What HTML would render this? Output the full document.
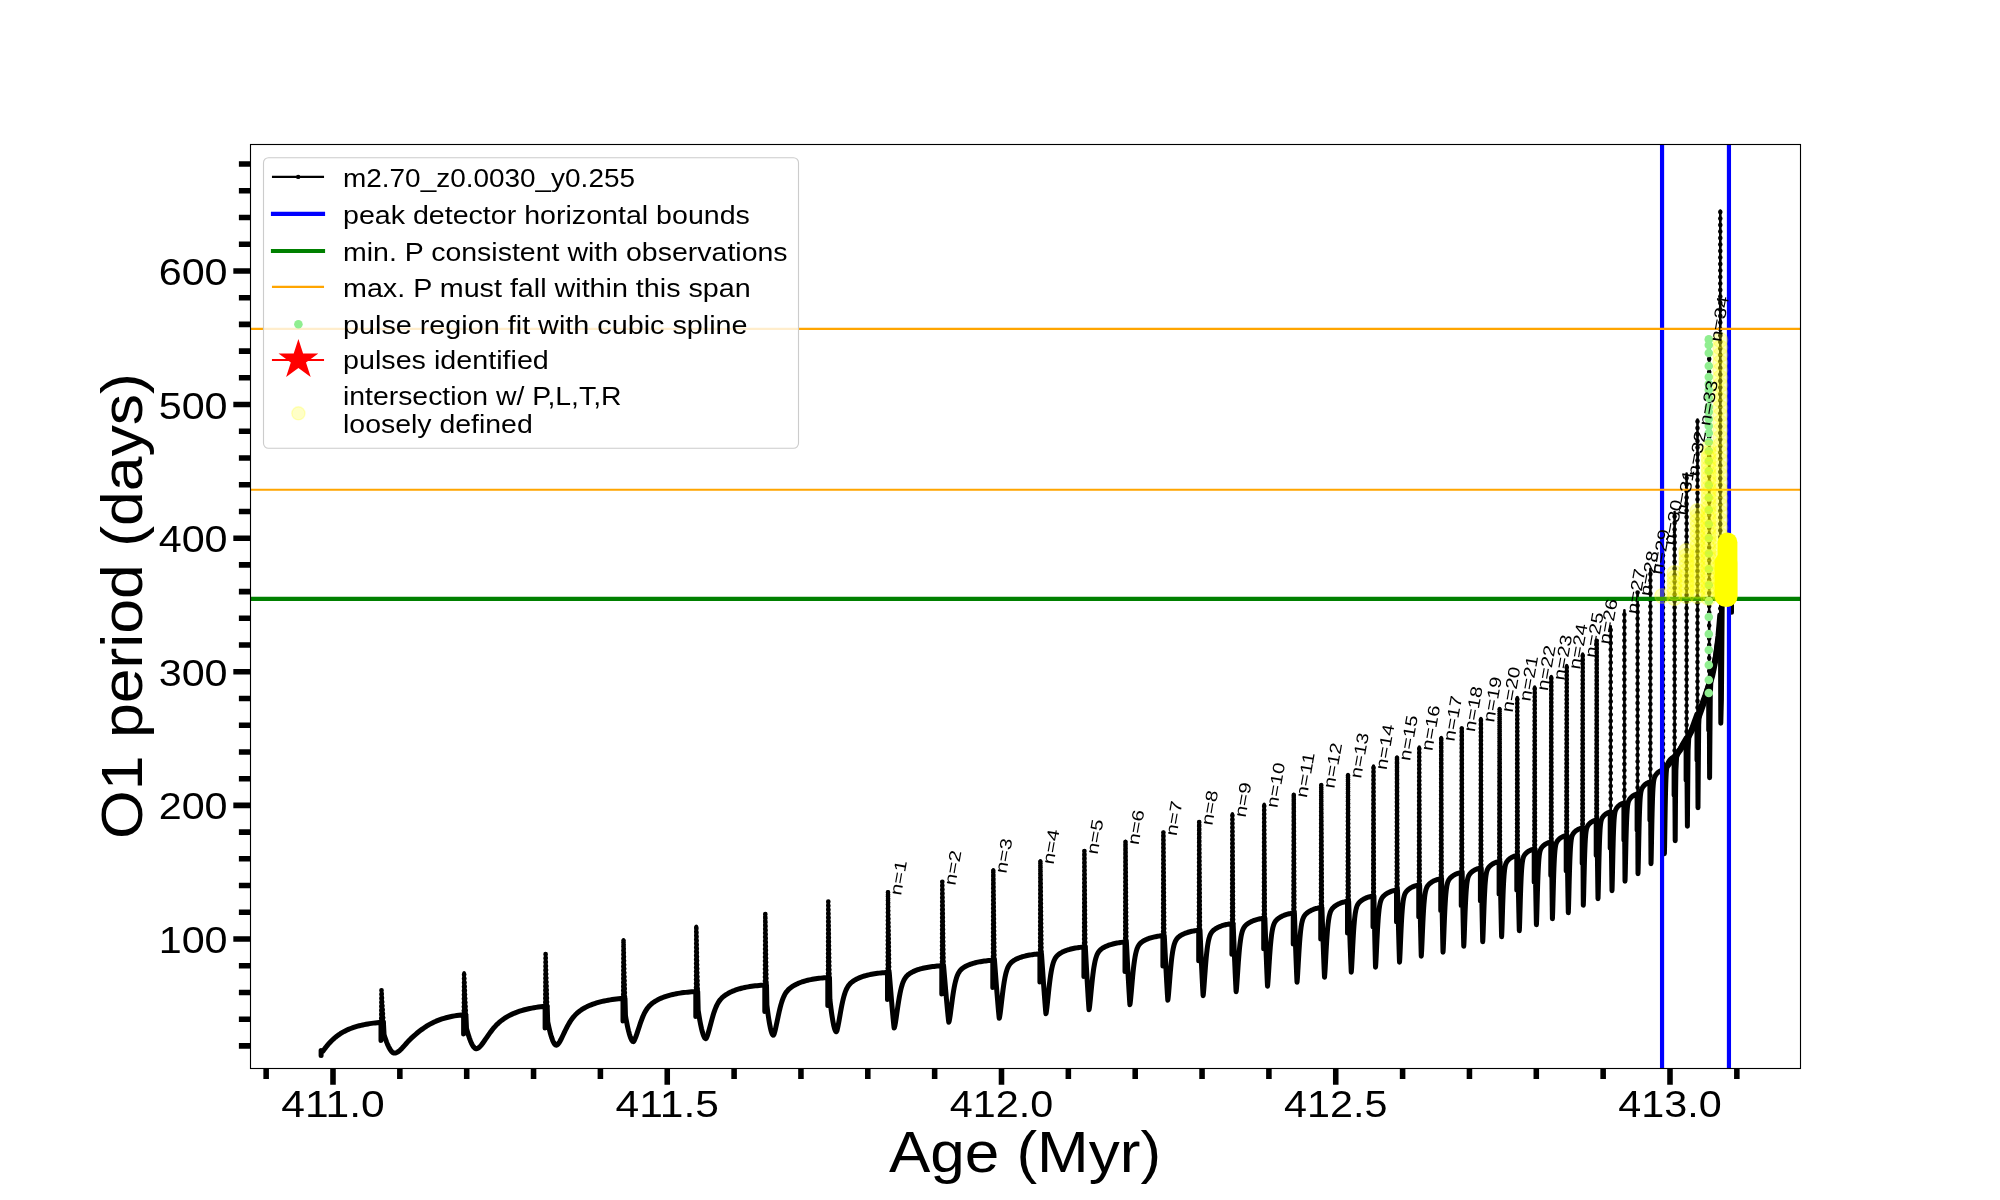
<!DOCTYPE html><html><head><meta charset="utf-8"><title>chart</title><style>html,body{margin:0;padding:0;background:#fff;width:2000px;height:1200px;overflow:hidden}svg{display:block;will-change:transform}</style></head><body><svg width="2000" height="1200" viewBox="0 0 2000 1200" font-family='"Liberation Sans", sans-serif'>
<rect x="0" y="0" width="2000" height="1200" fill="#fff"/>
<defs><clipPath id="ax"><rect x="250" y="144" width="1550" height="924"/></clipPath></defs>
<g clip-path="url(#ax)">
<path d="M321.10,1055.40 L321.10,1050.60 L322.20,1051.60 L322.32,1051.58 L322.56,1051.44 L322.90,1051.11 L323.30,1050.61 L323.78,1049.99 L324.31,1049.27 L324.90,1048.47 L325.54,1047.63 L326.24,1046.74 L326.98,1045.82 L327.77,1044.87 L328.60,1043.91 L329.47,1042.94 L330.39,1041.96 L331.34,1040.99 L332.34,1040.02 L333.37,1039.07 L334.44,1038.12 L335.55,1037.20 L336.69,1036.30 L337.87,1035.42 L339.08,1034.57 L340.32,1033.74 L341.60,1032.94 L342.91,1032.17 L344.25,1031.43 L345.62,1030.73 L347.02,1030.05 L348.46,1029.40 L349.92,1028.79 L351.41,1028.21 L352.93,1027.65 L354.49,1027.13 L356.07,1026.64 L357.67,1026.18 L359.31,1025.74 L360.97,1025.33 L362.66,1024.95 L364.38,1024.59 L366.12,1024.25 L367.89,1023.94 L369.69,1023.65 L371.51,1023.38 L373.36,1023.13 L375.23,1022.90 L377.13,1022.68 L379.05,1022.48 L381.00,1022.30 L381.00,1022.30 L381.00,1040.50 L381.20,1022.30 M383.42,1022.30 L384.06,1034.62 L384.70,1036.65 L385.34,1038.57 L385.98,1040.38 L386.62,1042.09 L387.26,1043.69 L387.90,1045.17 L388.54,1046.54 L389.18,1047.79 L389.82,1048.93 L390.46,1049.94 L391.10,1050.82 L391.74,1051.58 L392.38,1052.19 L393.02,1052.66 L393.66,1052.97 L394.30,1053.10 L394.44,1053.10 L394.73,1053.08 L395.12,1053.03 L395.60,1052.94 L396.16,1052.77 L396.79,1052.51 L397.48,1052.15 L398.24,1051.66 L399.06,1051.05 L399.93,1050.29 L400.86,1049.41 L401.84,1048.40 L402.87,1047.29 L403.95,1046.08 L405.08,1044.81 L406.25,1043.49 L407.47,1042.15 L408.73,1040.81 L410.03,1039.47 L411.38,1038.14 L412.76,1036.84 L414.19,1035.55 L415.66,1034.28 L417.16,1033.02 L418.70,1031.78 L420.28,1030.56 L421.90,1029.37 L423.56,1028.19 L425.24,1027.05 L426.97,1025.95 L428.73,1024.89 L430.52,1023.88 L432.35,1022.92 L434.21,1022.01 L436.11,1021.16 L438.04,1020.37 L440.00,1019.63 L441.99,1018.94 L444.01,1018.31 L446.07,1017.73 L448.15,1017.21 L450.27,1016.73 L452.42,1016.29 L454.59,1015.90 L456.80,1015.55 L459.04,1015.23 L461.30,1014.95 L463.60,1014.70 L463.60,1014.70 L463.60,1034.00 L463.80,1014.70 M465.90,1014.70 L466.50,1028.30 L467.10,1030.54 L467.70,1032.66 L468.30,1034.66 L468.90,1036.55 L469.50,1038.31 L470.10,1039.95 L470.70,1041.46 L471.30,1042.84 L471.90,1044.09 L472.50,1045.21 L473.10,1046.19 L473.70,1047.02 L474.30,1047.70 L474.90,1048.22 L475.50,1048.56 L476.10,1048.70 L476.24,1048.70 L476.53,1048.67 L476.92,1048.60 L477.39,1048.45 L477.95,1048.19 L478.58,1047.80 L479.27,1047.26 L480.02,1046.54 L480.84,1045.66 L481.71,1044.60 L482.63,1043.38 L483.61,1042.02 L484.63,1040.54 L485.71,1038.95 L486.83,1037.29 L488.00,1035.58 L489.21,1033.85 L490.46,1032.12 L491.76,1030.41 L493.10,1028.74 L494.48,1027.13 L495.90,1025.58 L497.36,1024.11 L498.86,1022.71 L500.40,1021.40 L501.97,1020.16 L503.58,1018.99 L505.23,1017.89 L506.91,1016.86 L508.63,1015.89 L510.38,1014.98 L512.17,1014.13 L513.99,1013.32 L515.84,1012.57 L517.73,1011.86 L519.65,1011.20 L521.60,1010.59 L523.58,1010.02 L525.60,1009.48 L527.64,1008.99 L529.72,1008.53 L531.83,1008.11 L533.96,1007.72 L536.13,1007.36 L538.33,1007.03 L540.56,1006.73 L542.81,1006.45 L545.10,1006.20 L545.10,1006.20 L545.10,1028.00 L545.30,1006.20 M547.19,1006.20 L547.72,1021.80 L548.25,1024.37 L548.78,1026.80 L549.31,1029.10 L549.84,1031.26 L550.37,1033.28 L550.90,1035.16 L551.43,1036.89 L551.96,1038.48 L552.49,1039.92 L553.02,1041.20 L553.55,1042.32 L554.08,1043.27 L554.61,1044.05 L555.14,1044.65 L555.67,1045.04 L556.20,1045.20 L556.34,1045.19 L556.61,1045.14 L556.99,1044.99 L557.45,1044.69 L557.99,1044.19 L558.60,1043.45 L559.27,1042.47 L560.00,1041.24 L560.79,1039.77 L561.63,1038.10 L562.52,1036.26 L563.47,1034.27 L564.46,1032.18 L565.50,1030.03 L566.59,1027.85 L567.72,1025.70 L568.89,1023.61 L570.11,1021.61 L571.36,1019.71 L572.66,1017.95 L574.00,1016.32 L575.37,1014.82 L576.79,1013.44 L578.24,1012.17 L579.72,1011.01 L581.25,1009.93 L582.81,1008.93 L584.40,1007.99 L586.03,1007.12 L587.69,1006.30 L589.39,1005.54 L591.12,1004.82 L592.88,1004.15 L594.67,1003.52 L596.50,1002.94 L598.36,1002.40 L600.25,1001.89 L602.17,1001.43 L604.12,1000.99 L606.10,1000.60 L608.11,1000.23 L610.15,999.89 L612.22,999.59 L614.32,999.30 L616.45,999.05 L618.60,998.81 L620.79,998.60 L623.00,998.40 L623.00,998.40 L623.00,1021.00 L623.20,998.40 M624.99,998.40 L625.48,1015.72 L625.98,1018.57 L626.47,1021.27 L626.97,1023.82 L627.46,1026.22 L627.96,1028.46 L628.45,1030.55 L628.95,1032.48 L629.44,1034.24 L629.93,1035.83 L630.43,1037.25 L630.92,1038.50 L631.42,1039.56 L631.91,1040.42 L632.41,1041.08 L632.90,1041.52 L633.40,1041.70 L633.53,1041.66 L633.79,1041.38 L634.14,1040.77 L634.57,1039.85 L635.07,1038.67 L635.64,1037.22 L636.27,1035.52 L636.95,1033.57 L637.69,1031.39 L638.47,1029.00 L639.31,1026.46 L640.19,1023.83 L641.12,1021.17 L642.09,1018.55 L643.10,1016.05 L644.16,1013.72 L645.26,1011.60 L646.39,1009.70 L647.56,1008.02 L648.78,1006.54 L650.02,1005.23 L651.31,1004.06 L652.63,1003.01 L653.98,1002.05 L655.37,1001.16 L656.80,1000.33 L658.25,999.55 L659.74,998.82 L661.26,998.14 L662.82,997.50 L664.40,996.90 L666.02,996.34 L667.66,995.82 L669.34,995.33 L671.05,994.88 L672.78,994.47 L674.55,994.09 L676.34,993.73 L678.16,993.41 L680.01,993.11 L681.89,992.84 L683.80,992.59 L685.73,992.36 L687.69,992.15 L689.68,991.97 L691.69,991.79 L693.73,991.64 L695.80,991.50 L695.80,991.50 L695.80,1016.50 L696.00,991.50 M697.72,991.50 L698.20,1010.38 L698.67,1013.49 L699.15,1016.43 L699.62,1019.21 L700.10,1021.83 L700.57,1024.27 L701.05,1026.55 L701.52,1028.65 L702.00,1030.57 L702.47,1032.30 L702.95,1033.85 L703.42,1035.21 L703.90,1036.36 L704.38,1037.31 L704.85,1038.03 L705.32,1038.51 L705.80,1038.70 L705.92,1038.67 L706.17,1038.44 L706.50,1037.86 L706.91,1036.92 L707.38,1035.63 L707.92,1033.99 L708.51,1032.02 L709.16,1029.72 L709.85,1027.15 L710.60,1024.34 L711.39,1021.38 L712.22,1018.33 L713.10,1015.30 L714.02,1012.37 L714.98,1009.61 L715.97,1007.09 L717.01,1004.83 L718.08,1002.84 L719.19,1001.11 L720.34,999.61 L721.52,998.31 L722.73,997.16 L723.98,996.13 L725.26,995.20 L726.58,994.33 L727.92,993.53 L729.30,992.79 L730.71,992.08 L732.15,991.42 L733.61,990.81 L735.11,990.23 L736.64,989.69 L738.20,989.19 L739.78,988.72 L741.39,988.29 L743.03,987.88 L744.70,987.51 L746.40,987.17 L748.12,986.86 L749.87,986.57 L751.65,986.30 L753.45,986.06 L755.28,985.84 L757.13,985.64 L759.01,985.45 L760.92,985.29 L762.85,985.14 L764.80,985.00 L764.80,985.00 L764.80,1011.50 L765.00,985.00 M766.50,985.00 L766.90,1005.08 L767.30,1008.38 L767.70,1011.52 L768.10,1014.47 L768.50,1017.25 L768.90,1019.86 L769.30,1022.27 L769.70,1024.51 L770.10,1026.55 L770.50,1028.40 L770.90,1030.05 L771.30,1031.49 L771.70,1032.72 L772.10,1033.72 L772.50,1034.49 L772.90,1035.00 L773.30,1035.20 L773.41,1035.17 L773.64,1034.93 L773.95,1034.33 L774.32,1033.29 L774.76,1031.80 L775.26,1029.87 L775.80,1027.52 L776.40,1024.79 L777.04,1021.74 L777.73,1018.44 L778.46,1014.99 L779.23,1011.51 L780.04,1008.11 L780.89,1004.87 L781.78,1001.89 L782.70,999.20 L783.65,996.84 L784.65,994.79 L785.67,993.04 L786.73,991.54 L787.82,990.26 L788.94,989.13 L790.09,988.14 L791.28,987.24 L792.49,986.41 L793.73,985.65 L795.01,984.94 L796.31,984.27 L797.64,983.64 L798.99,983.05 L800.38,982.50 L801.79,981.99 L803.22,981.51 L804.69,981.07 L806.18,980.65 L807.69,980.27 L809.24,979.91 L810.80,979.59 L812.39,979.29 L814.01,979.01 L815.65,978.75 L817.32,978.52 L819.00,978.31 L820.72,978.12 L822.45,977.94 L824.21,977.78 L825.99,977.63 L827.80,977.50 L827.80,977.50 L827.80,1005.50 L828.00,977.50 M829.50,977.50 L829.90,999.18 L830.30,1002.75 L830.70,1006.13 L831.10,1009.32 L831.50,1012.32 L831.90,1015.13 L832.30,1017.74 L832.70,1020.16 L833.10,1022.36 L833.50,1024.36 L833.90,1026.14 L834.30,1027.69 L834.70,1029.02 L835.10,1030.10 L835.50,1030.93 L835.90,1031.48 L836.30,1031.70 L836.40,1031.65 L836.62,1031.38 L836.91,1030.69 L837.26,1029.51 L837.67,1027.79 L838.14,1025.55 L838.65,1022.84 L839.21,1019.70 L839.82,1016.25 L840.46,1012.57 L841.15,1008.81 L841.87,1005.07 L842.63,1001.48 L843.43,998.14 L844.26,995.11 L845.13,992.43 L846.03,990.12 L846.96,988.14 L847.92,986.47 L848.92,985.06 L849.94,983.86 L850.99,982.83 L852.08,981.92 L853.19,981.11 L854.33,980.37 L855.50,979.68 L856.69,979.05 L857.91,978.45 L859.16,977.89 L860.44,977.37 L861.74,976.88 L863.06,976.42 L864.41,976.00 L865.79,975.60 L867.19,975.23 L868.61,974.89 L870.06,974.57 L871.53,974.28 L873.03,974.01 L874.55,973.76 L876.09,973.53 L877.65,973.32 L879.24,973.13 L880.85,972.95 L882.48,972.80 L884.13,972.65 L885.80,972.52 L887.50,972.40 L887.50,972.40 L887.50,999.50 L887.70,972.40 M889.22,972.40 L891.36,998.53 L891.53,1000.55 L891.70,1002.56 L891.87,1004.55 L892.04,1006.53 L892.21,1008.49 L892.38,1010.43 L892.56,1012.35 L892.73,1014.25 L892.90,1016.13 L893.07,1017.98 L893.24,1019.80 L893.41,1021.59 L893.59,1023.33 L893.76,1025.01 L893.93,1026.60 L894.10,1028.00 L894.20,1027.93 L894.40,1027.54 L894.66,1026.65 L895.00,1025.17 L895.38,1023.06 L895.81,1020.36 L896.29,1017.13 L896.81,1013.47 L897.38,1009.51 L897.98,1005.39 L898.62,1001.25 L899.29,997.23 L900.00,993.45 L900.74,990.00 L901.52,986.92 L902.32,984.25 L903.16,981.97 L904.03,980.05 L904.93,978.46 L905.85,977.12 L906.81,976.00 L907.79,975.05 L908.80,974.22 L909.84,973.48 L910.90,972.82 L911.99,972.21 L913.10,971.64 L914.24,971.11 L915.40,970.62 L916.59,970.16 L917.80,969.73 L919.03,969.32 L920.29,968.95 L921.57,968.59 L922.88,968.27 L924.20,967.96 L925.55,967.68 L926.92,967.42 L928.32,967.18 L929.73,966.96 L931.17,966.76 L932.62,966.57 L934.10,966.40 L935.60,966.25 L937.12,966.10 L938.66,965.97 L940.22,965.86 L941.80,965.75 L941.80,965.75 L941.80,994.00 L942.00,965.75 M943.59,965.75 L945.85,992.28 L946.03,994.33 L946.21,996.37 L946.39,998.39 L946.57,1000.40 L946.75,1002.39 L946.94,1004.36 L947.12,1006.31 L947.30,1008.24 L947.48,1010.15 L947.66,1012.03 L947.84,1013.88 L948.02,1015.69 L948.21,1017.45 L948.39,1019.16 L948.57,1020.78 L948.75,1022.20 L948.84,1022.12 L949.02,1021.69 L949.27,1020.75 L949.58,1019.20 L949.93,1017.02 L950.33,1014.27 L950.77,1011.01 L951.26,1007.34 L951.78,1003.38 L952.33,999.27 L952.92,995.16 L953.54,991.17 L954.20,987.43 L954.88,984.00 L955.60,980.96 L956.35,978.32 L957.12,976.06 L957.92,974.17 L958.75,972.59 L959.60,971.28 L960.49,970.19 L961.39,969.25 L962.32,968.45 L963.28,967.74 L964.26,967.10 L965.27,966.52 L966.29,965.98 L967.35,965.47 L968.42,965.00 L969.52,964.56 L970.63,964.14 L971.78,963.76 L972.94,963.39 L974.12,963.05 L975.32,962.73 L976.55,962.44 L977.80,962.16 L979.06,961.91 L980.35,961.68 L981.65,961.46 L982.98,961.26 L984.33,961.07 L985.69,960.90 L987.08,960.75 L988.48,960.61 L989.90,960.48 L991.34,960.36 L992.80,960.25 L992.80,960.25 L992.80,987.60 L993.00,960.25 M994.48,960.25 L996.54,987.49 L996.71,989.59 L996.88,991.68 L997.04,993.76 L997.21,995.82 L997.37,997.86 L997.54,999.89 L997.71,1001.89 L997.87,1003.87 L998.04,1005.83 L998.20,1007.76 L998.37,1009.66 L998.54,1011.52 L998.70,1013.33 L998.87,1015.08 L999.03,1016.75 L999.20,1018.20 L999.28,1018.10 L999.45,1017.62 L999.68,1016.56 L999.96,1014.86 L1000.29,1012.53 L1000.66,1009.61 L1001.07,1006.17 L1001.52,1002.32 L1002.00,998.19 L1002.51,993.91 L1003.05,989.65 L1003.63,985.51 L1004.23,981.64 L1004.87,978.10 L1005.53,974.95 L1006.22,972.22 L1006.93,969.89 L1007.67,967.94 L1008.44,966.31 L1009.23,964.96 L1010.04,963.84 L1010.88,962.89 L1011.74,962.07 L1012.63,961.36 L1013.53,960.71 L1014.46,960.13 L1015.41,959.59 L1016.38,959.09 L1017.37,958.62 L1018.39,958.18 L1019.42,957.77 L1020.47,957.38 L1021.55,957.01 L1022.64,956.67 L1023.75,956.35 L1024.89,956.05 L1026.04,955.77 L1027.21,955.51 L1028.40,955.27 L1029.60,955.05 L1030.83,954.85 L1032.07,954.66 L1033.33,954.48 L1034.61,954.32 L1035.91,954.17 L1037.22,954.04 L1038.55,953.91 L1039.90,953.80 L1039.90,953.80 L1039.90,982.00 L1040.10,953.80 M1041.50,953.80 L1043.43,981.95 L1043.58,984.13 L1043.73,986.29 L1043.89,988.44 L1044.04,990.56 L1044.20,992.68 L1044.35,994.77 L1044.51,996.84 L1044.66,998.89 L1044.82,1000.91 L1044.97,1002.91 L1045.13,1004.87 L1045.28,1006.79 L1045.44,1008.66 L1045.59,1010.48 L1045.75,1012.20 L1045.90,1013.70 L1045.98,1013.58 L1046.14,1013.02 L1046.35,1011.83 L1046.61,1009.99 L1046.92,1007.51 L1047.26,1004.42 L1047.65,1000.82 L1048.06,996.80 L1048.51,992.51 L1048.99,988.08 L1049.50,983.66 L1050.04,979.40 L1050.60,975.40 L1051.19,971.76 L1051.81,968.52 L1052.45,965.70 L1053.12,963.30 L1053.81,961.29 L1054.53,959.62 L1055.26,958.23 L1056.02,957.08 L1056.81,956.12 L1057.61,955.29 L1058.44,954.57 L1059.28,953.93 L1060.15,953.35 L1061.03,952.82 L1061.94,952.32 L1062.87,951.85 L1063.81,951.42 L1064.78,951.01 L1065.76,950.62 L1066.77,950.25 L1067.79,949.91 L1068.82,949.59 L1069.88,949.29 L1070.96,949.01 L1072.05,948.75 L1073.16,948.51 L1074.29,948.28 L1075.43,948.08 L1076.59,947.88 L1077.77,947.70 L1078.96,947.54 L1080.17,947.39 L1081.40,947.25 L1082.64,947.12 L1083.90,947.00 L1083.90,947.00 L1083.90,976.60 L1084.10,947.00 M1085.32,947.00 L1086.93,976.47 L1087.06,978.75 L1087.19,981.01 L1087.32,983.25 L1087.45,985.48 L1087.58,987.69 L1087.71,989.88 L1087.84,992.05 L1087.97,994.20 L1088.09,996.31 L1088.22,998.40 L1088.35,1000.46 L1088.48,1002.47 L1088.61,1004.43 L1088.74,1006.33 L1088.87,1008.13 L1089.00,1009.70 L1089.07,1009.56 L1089.22,1008.90 L1089.43,1007.60 L1089.68,1005.65 L1089.97,1003.07 L1090.29,999.89 L1090.65,996.19 L1091.05,992.09 L1091.47,987.72 L1091.93,983.22 L1092.41,978.75 L1092.92,974.43 L1093.45,970.39 L1094.01,966.71 L1094.60,963.44 L1095.21,960.60 L1095.84,958.17 L1096.49,956.14 L1097.17,954.46 L1097.87,953.06 L1098.59,951.91 L1099.33,950.94 L1100.09,950.12 L1100.88,949.41 L1101.68,948.79 L1102.50,948.22 L1103.34,947.70 L1104.20,947.22 L1105.08,946.77 L1105.97,946.35 L1106.89,945.95 L1107.82,945.57 L1108.77,945.22 L1109.73,944.88 L1110.72,944.57 L1111.72,944.28 L1112.74,944.00 L1113.77,943.75 L1114.82,943.51 L1115.89,943.28 L1116.98,943.08 L1118.07,942.88 L1119.19,942.71 L1120.32,942.54 L1121.47,942.39 L1122.63,942.25 L1123.81,942.12 L1125.00,942.00 L1125.00,942.00 L1125.00,971.50 L1125.20,942.00 M1126.38,942.00 L1127.92,971.47 L1128.04,973.75 L1128.17,976.01 L1128.29,978.25 L1128.41,980.48 L1128.54,982.69 L1128.66,984.88 L1128.79,987.05 L1128.91,989.20 L1129.03,991.31 L1129.16,993.40 L1129.28,995.46 L1129.41,997.47 L1129.53,999.43 L1129.65,1001.33 L1129.78,1003.13 L1129.90,1004.70 L1129.97,1004.45 L1130.10,1003.68 L1130.29,1002.29 L1130.52,1000.25 L1130.78,997.56 L1131.08,994.27 L1131.42,990.46 L1131.78,986.25 L1132.17,981.78 L1132.58,977.19 L1133.02,972.63 L1133.49,968.24 L1133.98,964.14 L1134.50,960.40 L1135.03,957.08 L1135.59,954.19 L1136.17,951.73 L1136.77,949.67 L1137.39,947.96 L1138.03,946.54 L1138.69,945.38 L1139.37,944.41 L1140.07,943.59 L1140.79,942.88 L1141.52,942.26 L1142.27,941.71 L1143.04,941.20 L1143.83,940.73 L1144.64,940.29 L1145.46,939.88 L1146.29,939.49 L1147.15,939.13 L1148.02,938.78 L1148.91,938.46 L1149.81,938.15 L1150.73,937.86 L1151.66,937.59 L1152.61,937.34 L1153.57,937.11 L1154.55,936.88 L1155.54,936.68 L1156.55,936.49 L1157.57,936.31 L1158.61,936.14 L1159.66,935.99 L1160.73,935.85 L1161.81,935.72 L1162.90,935.60 L1162.90,935.60 L1162.90,966.00 L1163.10,935.60 M1164.28,935.60 L1165.82,965.96 L1165.94,968.31 L1166.07,970.64 L1166.19,972.95 L1166.32,975.25 L1166.44,977.53 L1166.56,979.78 L1166.69,982.02 L1166.81,984.23 L1166.93,986.41 L1167.06,988.56 L1167.18,990.68 L1167.30,992.75 L1167.43,994.77 L1167.55,996.72 L1167.68,998.58 L1167.80,1000.20 L1167.86,999.95 L1167.99,999.17 L1168.17,997.77 L1168.38,995.70 L1168.63,992.98 L1168.91,989.64 L1169.22,985.78 L1169.56,981.50 L1169.92,976.96 L1170.31,972.30 L1170.73,967.68 L1171.16,963.23 L1171.62,959.06 L1172.10,955.27 L1172.61,951.90 L1173.13,948.98 L1173.67,946.48 L1174.23,944.40 L1174.81,942.67 L1175.41,941.24 L1176.03,940.07 L1176.67,939.09 L1177.32,938.27 L1177.99,937.56 L1178.68,936.94 L1179.39,936.38 L1180.11,935.87 L1180.84,935.40 L1181.60,934.96 L1182.37,934.55 L1183.15,934.16 L1183.95,933.79 L1184.77,933.44 L1185.60,933.11 L1186.44,932.80 L1187.30,932.51 L1188.17,932.24 L1189.06,931.98 L1189.97,931.74 L1190.88,931.52 L1191.81,931.31 L1192.76,931.11 L1193.71,930.93 L1194.68,930.76 L1195.67,930.60 L1196.67,930.46 L1197.68,930.32 L1198.70,930.20 L1198.70,930.20 L1198.70,960.70 L1198.90,930.20 M1199.98,930.20 L1201.35,960.99 L1201.45,963.36 L1201.56,965.73 L1201.67,968.07 L1201.78,970.40 L1201.89,972.71 L1202.00,975.00 L1202.11,977.26 L1202.22,979.50 L1202.33,981.72 L1202.44,983.90 L1202.55,986.04 L1202.66,988.14 L1202.77,990.19 L1202.88,992.18 L1202.99,994.06 L1203.10,995.70 L1203.16,995.45 L1203.28,994.65 L1203.44,993.20 L1203.64,991.08 L1203.87,988.27 L1204.13,984.83 L1204.42,980.84 L1204.74,976.43 L1205.08,971.74 L1205.44,966.93 L1205.83,962.16 L1206.23,957.57 L1206.66,953.27 L1207.11,949.36 L1207.58,945.89 L1208.07,942.87 L1208.57,940.31 L1209.10,938.16 L1209.64,936.39 L1210.20,934.92 L1210.77,933.72 L1211.37,932.72 L1211.98,931.88 L1212.60,931.16 L1213.24,930.52 L1213.90,929.96 L1214.57,929.44 L1215.26,928.96 L1215.96,928.51 L1216.68,928.09 L1217.41,927.69 L1218.15,927.31 L1218.91,926.95 L1219.69,926.62 L1220.47,926.30 L1221.28,926.00 L1222.09,925.72 L1222.92,925.45 L1223.76,925.20 L1224.61,924.97 L1225.48,924.75 L1226.36,924.55 L1227.25,924.36 L1228.16,924.18 L1229.07,924.02 L1230.00,923.87 L1230.95,923.73 L1231.90,923.60 L1231.90,923.60 L1231.90,954.20 L1232.10,923.60 M1233.14,923.60 L1234.43,955.61 L1234.54,958.08 L1234.64,960.54 L1234.75,962.98 L1234.85,965.40 L1234.96,967.80 L1235.06,970.18 L1235.16,972.53 L1235.27,974.86 L1235.37,977.16 L1235.48,979.43 L1235.58,981.66 L1235.68,983.84 L1235.79,985.98 L1235.89,988.04 L1236.00,989.99 L1236.10,991.70 L1236.16,991.45 L1236.27,990.63 L1236.43,989.17 L1236.62,987.00 L1236.84,984.13 L1237.09,980.62 L1237.37,976.55 L1237.67,972.04 L1238.00,967.25 L1238.34,962.34 L1238.71,957.46 L1239.10,952.77 L1239.51,948.39 L1239.94,944.39 L1240.39,940.85 L1240.86,937.78 L1241.34,935.16 L1241.85,932.98 L1242.37,931.17 L1242.90,929.69 L1243.45,928.47 L1244.02,927.46 L1244.61,926.61 L1245.20,925.88 L1245.82,925.24 L1246.45,924.66 L1247.09,924.14 L1247.75,923.66 L1248.42,923.20 L1249.11,922.78 L1249.81,922.37 L1250.53,921.99 L1251.25,921.63 L1252.00,921.29 L1252.75,920.96 L1253.52,920.66 L1254.30,920.37 L1255.09,920.10 L1255.90,919.85 L1256.72,919.61 L1257.55,919.39 L1258.39,919.18 L1259.25,918.98 L1260.11,918.80 L1260.99,918.64 L1261.88,918.48 L1262.79,918.33 L1263.70,918.20 L1263.70,918.20 L1263.70,948.70 L1263.90,918.20 M1264.86,918.20 L1266.02,950.16 L1266.11,952.63 L1266.20,955.08 L1266.29,957.52 L1266.39,959.94 L1266.48,962.33 L1266.57,964.71 L1266.66,967.06 L1266.76,969.39 L1266.85,971.68 L1266.94,973.95 L1267.04,976.17 L1267.13,978.36 L1267.22,980.48 L1267.31,982.54 L1267.41,984.49 L1267.50,986.20 L1267.55,985.95 L1267.66,985.14 L1267.80,983.68 L1267.98,981.53 L1268.19,978.67 L1268.42,975.17 L1268.68,971.10 L1268.96,966.61 L1269.27,961.83 L1269.59,956.92 L1269.94,952.06 L1270.30,947.37 L1270.68,943.00 L1271.09,939.01 L1271.50,935.48 L1271.94,932.42 L1272.39,929.82 L1272.86,927.65 L1273.35,925.85 L1273.85,924.38 L1274.36,923.17 L1274.89,922.17 L1275.44,921.33 L1275.99,920.61 L1276.57,919.98 L1277.15,919.42 L1277.76,918.90 L1278.37,918.42 L1279.00,917.98 L1279.64,917.56 L1280.29,917.16 L1280.96,916.78 L1281.64,916.42 L1282.33,916.08 L1283.03,915.76 L1283.75,915.46 L1284.48,915.17 L1285.22,914.91 L1285.97,914.65 L1286.73,914.41 L1287.51,914.19 L1288.30,913.98 L1289.09,913.79 L1289.90,913.61 L1290.72,913.44 L1291.55,913.28 L1292.40,913.14 L1293.25,913.00 L1293.25,913.00 L1293.25,944.00 L1293.45,913.00 M1294.40,913.00 L1295.54,945.52 L1295.63,948.04 L1295.72,950.53 L1295.81,953.01 L1295.90,955.47 L1295.99,957.91 L1296.09,960.33 L1296.18,962.72 L1296.27,965.09 L1296.36,967.43 L1296.45,969.73 L1296.54,972.00 L1296.63,974.22 L1296.73,976.38 L1296.82,978.48 L1296.91,980.46 L1297.00,982.20 L1297.05,981.95 L1297.15,981.13 L1297.28,979.64 L1297.45,977.44 L1297.64,974.52 L1297.85,970.94 L1298.09,966.79 L1298.35,962.19 L1298.63,957.30 L1298.93,952.28 L1299.25,947.30 L1299.58,942.51 L1299.94,938.04 L1300.31,933.97 L1300.69,930.36 L1301.10,927.24 L1301.51,924.58 L1301.94,922.37 L1302.39,920.54 L1302.85,919.05 L1303.33,917.82 L1303.82,916.81 L1304.32,915.96 L1304.83,915.23 L1305.36,914.59 L1305.91,914.02 L1306.46,913.50 L1307.03,913.02 L1307.61,912.57 L1308.20,912.15 L1308.80,911.74 L1309.41,911.36 L1310.04,911.00 L1310.68,910.65 L1311.33,910.33 L1311.99,910.02 L1312.66,909.73 L1313.34,909.45 L1314.04,909.20 L1314.74,908.95 L1315.46,908.73 L1316.18,908.51 L1316.92,908.31 L1317.66,908.13 L1318.42,907.95 L1319.19,907.79 L1319.96,907.64 L1320.75,907.50 L1320.75,907.50 L1320.75,939.00 L1320.95,907.50 M1321.90,907.50 L1323.04,940.26 L1323.13,942.79 L1323.22,945.31 L1323.31,947.80 L1323.40,950.28 L1323.49,952.74 L1323.59,955.17 L1323.68,957.58 L1323.77,959.97 L1323.86,962.32 L1323.95,964.64 L1324.04,966.92 L1324.13,969.16 L1324.23,971.34 L1324.32,973.45 L1324.41,975.45 L1324.50,977.20 L1324.55,976.94 L1324.64,976.10 L1324.77,974.58 L1324.93,972.31 L1325.12,969.31 L1325.33,965.63 L1325.56,961.35 L1325.81,956.63 L1326.08,951.61 L1326.37,946.46 L1326.68,941.37 L1327.00,936.47 L1327.34,931.91 L1327.70,927.77 L1328.08,924.11 L1328.47,920.94 L1328.87,918.27 L1329.29,916.04 L1329.72,914.21 L1330.17,912.72 L1330.63,911.49 L1331.10,910.49 L1331.59,909.64 L1332.09,908.92 L1332.60,908.29 L1333.12,907.73 L1333.66,907.21 L1334.21,906.74 L1334.77,906.29 L1335.34,905.87 L1335.93,905.47 L1336.52,905.09 L1337.13,904.73 L1337.75,904.38 L1338.38,904.06 L1339.02,903.75 L1339.67,903.46 L1340.33,903.19 L1341.00,902.94 L1341.68,902.69 L1342.37,902.47 L1343.08,902.26 L1343.79,902.06 L1344.51,901.87 L1345.24,901.70 L1345.99,901.54 L1346.74,901.39 L1347.50,901.25 L1347.50,901.25 L1347.50,933.00 L1347.70,901.25 M1348.65,901.25 L1349.79,934.60 L1349.88,937.17 L1349.97,939.73 L1350.06,942.28 L1350.15,944.80 L1350.24,947.30 L1350.34,949.78 L1350.43,952.23 L1350.52,954.66 L1350.61,957.05 L1350.70,959.42 L1350.79,961.74 L1350.88,964.02 L1350.98,966.24 L1351.07,968.38 L1351.16,970.42 L1351.25,972.20 L1351.29,971.94 L1351.38,971.09 L1351.51,969.55 L1351.66,967.25 L1351.83,964.20 L1352.03,960.46 L1352.25,956.12 L1352.49,951.33 L1352.74,946.24 L1353.02,941.04 L1353.31,935.89 L1353.62,930.95 L1353.94,926.36 L1354.28,922.20 L1354.63,918.54 L1355.00,915.38 L1355.38,912.72 L1355.78,910.51 L1356.19,908.70 L1356.61,907.23 L1357.04,906.03 L1357.49,905.04 L1357.95,904.22 L1358.42,903.52 L1358.91,902.90 L1359.41,902.35 L1359.91,901.85 L1360.43,901.38 L1360.96,900.94 L1361.50,900.53 L1362.06,900.13 L1362.62,899.76 L1363.19,899.41 L1363.78,899.07 L1364.37,898.75 L1364.98,898.45 L1365.59,898.17 L1366.22,897.90 L1366.85,897.65 L1367.50,897.42 L1368.15,897.19 L1368.82,896.99 L1369.49,896.79 L1370.17,896.61 L1370.87,896.44 L1371.57,896.28 L1372.28,896.14 L1373.00,896.00 L1373.00,896.00 L1373.00,926.75 L1373.20,896.00 M1373.90,896.00 L1374.60,929.46 L1374.66,932.05 L1374.71,934.62 L1374.77,937.17 L1374.82,939.70 L1374.88,942.21 L1374.94,944.70 L1374.99,947.16 L1375.05,949.60 L1375.11,952.00 L1375.16,954.37 L1375.22,956.70 L1375.28,958.99 L1375.33,961.22 L1375.39,963.37 L1375.44,965.41 L1375.50,967.20 L1375.54,966.94 L1375.63,966.07 L1375.75,964.49 L1375.89,962.13 L1376.06,959.01 L1376.25,955.17 L1376.46,950.73 L1376.69,945.82 L1376.94,940.61 L1377.21,935.29 L1377.49,930.04 L1377.79,925.01 L1378.10,920.35 L1378.42,916.14 L1378.77,912.43 L1379.12,909.25 L1379.49,906.58 L1379.87,904.37 L1380.27,902.57 L1380.67,901.10 L1381.09,899.91 L1381.53,898.94 L1381.97,898.12 L1382.43,897.43 L1382.89,896.82 L1383.37,896.28 L1383.86,895.78 L1384.37,895.32 L1384.88,894.89 L1385.40,894.48 L1385.93,894.09 L1386.48,893.72 L1387.03,893.37 L1387.59,893.04 L1388.17,892.73 L1388.75,892.43 L1389.35,892.15 L1389.95,891.88 L1390.56,891.64 L1391.19,891.40 L1391.82,891.18 L1392.46,890.98 L1393.11,890.78 L1393.77,890.60 L1394.44,890.44 L1395.12,890.28 L1395.80,890.13 L1396.50,890.00 L1396.50,890.00 L1396.50,921.75 L1396.70,890.00 M1397.50,890.00 L1398.38,923.93 L1398.45,926.56 L1398.52,929.16 L1398.59,931.75 L1398.66,934.31 L1398.73,936.86 L1398.80,939.38 L1398.87,941.88 L1398.94,944.35 L1399.01,946.79 L1399.08,949.19 L1399.15,951.55 L1399.22,953.87 L1399.29,956.13 L1399.36,958.31 L1399.43,960.39 L1399.50,962.20 L1399.54,961.94 L1399.62,961.07 L1399.73,959.46 L1399.86,957.08 L1400.02,953.92 L1400.19,950.04 L1400.38,945.54 L1400.59,940.58 L1400.82,935.32 L1401.06,929.95 L1401.32,924.66 L1401.59,919.61 L1401.88,914.94 L1402.18,910.72 L1402.49,907.03 L1402.82,903.87 L1403.16,901.22 L1403.51,899.04 L1403.87,897.26 L1404.24,895.83 L1404.63,894.66 L1405.02,893.71 L1405.43,892.92 L1405.85,892.24 L1406.28,891.65 L1406.72,891.12 L1407.17,890.64 L1407.63,890.19 L1408.10,889.77 L1408.57,889.37 L1409.06,888.99 L1409.56,888.63 L1410.07,888.29 L1410.59,887.97 L1411.11,887.66 L1411.65,887.37 L1412.19,887.10 L1412.75,886.84 L1413.31,886.60 L1413.88,886.37 L1414.46,886.15 L1415.05,885.95 L1415.64,885.76 L1416.25,885.59 L1416.86,885.43 L1417.48,885.27 L1418.11,885.13 L1418.75,885.00 L1418.75,885.00 L1418.75,916.75 L1418.95,885.00 M1419.65,885.00 L1420.35,918.46 L1420.41,921.05 L1420.46,923.62 L1420.52,926.17 L1420.57,928.70 L1420.63,931.21 L1420.69,933.70 L1420.74,936.16 L1420.80,938.60 L1420.86,941.00 L1420.91,943.37 L1420.97,945.70 L1421.03,947.99 L1421.08,950.22 L1421.14,952.37 L1421.19,954.41 L1421.25,956.20 L1421.29,955.94 L1421.37,955.05 L1421.48,953.43 L1421.62,951.01 L1421.77,947.80 L1421.95,943.86 L1422.15,939.29 L1422.36,934.26 L1422.59,928.93 L1422.84,923.50 L1423.10,918.16 L1423.37,913.07 L1423.66,908.36 L1423.97,904.14 L1424.28,900.44 L1424.61,897.29 L1424.95,894.66 L1425.31,892.50 L1425.68,890.75 L1426.06,889.34 L1426.45,888.20 L1426.85,887.27 L1427.26,886.49 L1427.68,885.83 L1428.12,885.26 L1428.56,884.74 L1429.02,884.27 L1429.48,883.83 L1429.96,883.42 L1430.44,883.03 L1430.94,882.66 L1431.44,882.30 L1431.96,881.97 L1432.48,881.65 L1433.01,881.35 L1433.56,881.07 L1434.11,880.80 L1434.67,880.55 L1435.24,880.31 L1435.82,880.09 L1436.40,879.88 L1437.00,879.68 L1437.60,879.50 L1438.22,879.33 L1438.84,879.17 L1439.47,879.02 L1440.10,878.88 L1440.75,878.75 L1440.75,878.75 L1440.75,910.50 L1440.95,878.75 M1441.60,878.75 L1442.21,913.27 L1442.26,915.94 L1442.31,918.59 L1442.36,921.22 L1442.41,923.83 L1442.46,926.42 L1442.51,928.99 L1442.56,931.53 L1442.61,934.04 L1442.66,936.52 L1442.70,938.97 L1442.75,941.37 L1442.80,943.73 L1442.85,946.03 L1442.90,948.25 L1442.95,950.36 L1443.00,952.20 L1443.04,951.93 L1443.11,951.01 L1443.22,949.33 L1443.34,946.81 L1443.49,943.46 L1443.66,939.35 L1443.84,934.60 L1444.04,929.36 L1444.25,923.82 L1444.48,918.19 L1444.73,912.65 L1444.99,907.39 L1445.26,902.54 L1445.54,898.19 L1445.84,894.40 L1446.15,891.18 L1446.47,888.50 L1446.80,886.30 L1447.14,884.53 L1447.50,883.11 L1447.86,881.96 L1448.24,881.03 L1448.62,880.26 L1449.02,879.60 L1449.43,879.02 L1449.84,878.51 L1450.27,878.03 L1450.70,877.59 L1451.15,877.18 L1451.60,876.79 L1452.07,876.42 L1452.54,876.06 L1453.02,875.73 L1453.51,875.41 L1454.01,875.11 L1454.52,874.83 L1455.03,874.56 L1455.56,874.31 L1456.09,874.07 L1456.63,873.84 L1457.18,873.63 L1457.74,873.44 L1458.30,873.25 L1458.88,873.08 L1459.46,872.92 L1460.05,872.77 L1460.65,872.63 L1461.25,872.50 L1461.25,872.50 L1461.25,905.50 L1461.45,872.50 M1462.15,872.50 L1462.85,907.14 L1462.91,909.82 L1462.96,912.47 L1463.02,915.12 L1463.07,917.74 L1463.13,920.33 L1463.19,922.91 L1463.24,925.46 L1463.30,927.98 L1463.36,930.47 L1463.41,932.92 L1463.47,935.33 L1463.53,937.70 L1463.58,940.00 L1463.64,942.23 L1463.69,944.35 L1463.75,946.20 L1463.78,945.93 L1463.85,945.03 L1463.95,943.35 L1464.06,940.85 L1464.20,937.53 L1464.35,933.45 L1464.51,928.73 L1464.70,923.53 L1464.89,918.04 L1465.10,912.47 L1465.33,907.00 L1465.56,901.81 L1465.81,897.04 L1466.07,892.78 L1466.34,889.07 L1466.62,885.93 L1466.91,883.33 L1467.22,881.21 L1467.53,879.50 L1467.85,878.13 L1468.19,877.04 L1468.53,876.15 L1468.88,875.41 L1469.24,874.78 L1469.61,874.23 L1469.99,873.74 L1470.38,873.29 L1470.78,872.87 L1471.18,872.47 L1471.60,872.10 L1472.02,871.74 L1472.45,871.41 L1472.89,871.09 L1473.34,870.78 L1473.79,870.50 L1474.26,870.22 L1474.73,869.97 L1475.21,869.73 L1475.69,869.50 L1476.19,869.28 L1476.69,869.08 L1477.20,868.89 L1477.71,868.72 L1478.24,868.55 L1478.77,868.40 L1479.30,868.26 L1479.85,868.12 L1480.40,868.00 L1480.40,868.00 L1480.40,900.70 L1480.60,868.00 M1481.26,868.00 L1481.89,902.64 L1481.94,905.32 L1481.99,907.97 L1482.04,910.62 L1482.09,913.24 L1482.14,915.83 L1482.19,918.41 L1482.24,920.96 L1482.30,923.48 L1482.35,925.97 L1482.40,928.42 L1482.45,930.83 L1482.50,933.20 L1482.55,935.50 L1482.60,937.73 L1482.65,939.85 L1482.70,941.70 L1482.73,941.43 L1482.80,940.49 L1482.89,938.75 L1483.01,936.16 L1483.14,932.70 L1483.29,928.47 L1483.45,923.57 L1483.63,918.18 L1483.83,912.49 L1484.03,906.73 L1484.25,901.08 L1484.48,895.74 L1484.73,890.84 L1484.98,886.47 L1485.25,882.68 L1485.53,879.49 L1485.82,876.84 L1486.11,874.70 L1486.42,872.98 L1486.74,871.61 L1487.07,870.51 L1487.41,869.62 L1487.75,868.89 L1488.11,868.26 L1488.48,867.72 L1488.85,867.23 L1489.23,866.78 L1489.62,866.36 L1490.02,865.97 L1490.43,865.59 L1490.85,865.24 L1491.27,864.90 L1491.70,864.58 L1492.15,864.28 L1492.59,863.99 L1493.05,863.72 L1493.51,863.46 L1493.99,863.22 L1494.46,863.00 L1494.95,862.78 L1495.44,862.58 L1495.95,862.39 L1496.45,862.22 L1496.97,862.05 L1497.49,861.90 L1498.02,861.76 L1498.56,861.62 L1499.10,861.50 L1499.10,861.50 L1499.10,894.00 L1499.30,861.50 M1500.00,861.50 L1500.70,896.84 L1500.76,899.58 L1500.81,902.29 L1500.87,904.98 L1500.92,907.66 L1500.98,910.31 L1501.04,912.93 L1501.09,915.53 L1501.15,918.11 L1501.21,920.65 L1501.26,923.15 L1501.32,925.61 L1501.38,928.03 L1501.43,930.38 L1501.49,932.65 L1501.54,934.81 L1501.60,936.70 L1501.63,936.42 L1501.69,935.47 L1501.78,933.69 L1501.89,931.02 L1502.01,927.49 L1502.15,923.14 L1502.30,918.12 L1502.46,912.60 L1502.64,906.79 L1502.84,900.90 L1503.04,895.15 L1503.25,889.72 L1503.48,884.74 L1503.72,880.33 L1503.96,876.51 L1504.22,873.30 L1504.49,870.65 L1504.76,868.51 L1505.05,866.80 L1505.35,865.45 L1505.65,864.37 L1505.96,863.49 L1506.28,862.77 L1506.61,862.16 L1506.95,861.62 L1507.30,861.14 L1507.65,860.70 L1508.02,860.29 L1508.39,859.90 L1508.77,859.53 L1509.15,859.18 L1509.55,858.85 L1509.95,858.54 L1510.35,858.24 L1510.77,857.96 L1511.19,857.69 L1511.62,857.44 L1512.06,857.20 L1512.50,856.97 L1512.95,856.76 L1513.41,856.56 L1513.88,856.38 L1514.35,856.21 L1514.82,856.04 L1515.31,855.89 L1515.80,855.75 L1516.30,855.62 L1516.80,855.50 L1516.80,855.50 L1516.80,890.00 L1517.00,855.50 M1517.70,855.50 L1518.40,890.84 L1518.46,893.58 L1518.51,896.29 L1518.57,898.98 L1518.62,901.66 L1518.68,904.31 L1518.74,906.93 L1518.79,909.53 L1518.85,912.11 L1518.91,914.65 L1518.96,917.15 L1519.02,919.61 L1519.07,922.03 L1519.13,924.38 L1519.19,926.65 L1519.24,928.81 L1519.30,930.70 L1519.33,930.42 L1519.39,929.45 L1519.48,927.64 L1519.58,924.93 L1519.70,921.32 L1519.83,916.89 L1519.98,911.78 L1520.15,906.16 L1520.32,900.26 L1520.51,894.29 L1520.71,888.46 L1520.92,882.97 L1521.14,877.96 L1521.37,873.52 L1521.62,869.70 L1521.87,866.49 L1522.13,863.86 L1522.40,861.74 L1522.68,860.05 L1522.97,858.72 L1523.27,857.66 L1523.58,856.81 L1523.89,856.10 L1524.22,855.50 L1524.55,854.98 L1524.89,854.51 L1525.23,854.08 L1525.59,853.68 L1525.95,853.30 L1526.32,852.94 L1526.70,852.60 L1527.09,852.28 L1527.48,851.97 L1527.88,851.68 L1528.29,851.40 L1528.70,851.14 L1529.12,850.89 L1529.55,850.66 L1529.99,850.44 L1530.43,850.23 L1530.88,850.04 L1531.33,849.86 L1531.80,849.69 L1532.26,849.53 L1532.74,849.38 L1533.22,849.25 L1533.71,849.12 L1534.20,849.00 L1534.20,849.00 L1534.20,882.00 L1534.40,849.00 M1535.04,849.00 L1535.63,884.58 L1535.68,887.33 L1535.73,890.06 L1535.78,892.77 L1535.83,895.46 L1535.87,898.13 L1535.92,900.78 L1535.97,903.39 L1536.02,905.98 L1536.07,908.54 L1536.11,911.06 L1536.16,913.54 L1536.21,915.97 L1536.26,918.34 L1536.30,920.63 L1536.35,922.80 L1536.40,924.70 L1536.43,924.42 L1536.49,923.42 L1536.57,921.57 L1536.67,918.79 L1536.79,915.09 L1536.92,910.55 L1537.06,905.31 L1537.22,899.57 L1537.39,893.53 L1537.57,887.43 L1537.76,881.50 L1537.97,875.92 L1538.18,870.84 L1538.41,866.35 L1538.64,862.50 L1538.88,859.28 L1539.14,856.65 L1539.40,854.54 L1539.67,852.87 L1539.95,851.55 L1540.24,850.50 L1540.53,849.67 L1540.84,848.98 L1541.15,848.39 L1541.47,847.88 L1541.80,847.42 L1542.14,847.00 L1542.48,846.60 L1542.83,846.23 L1543.19,845.88 L1543.55,845.54 L1543.93,845.22 L1544.31,844.92 L1544.69,844.63 L1545.09,844.36 L1545.49,844.10 L1545.90,843.86 L1546.31,843.63 L1546.73,843.42 L1547.16,843.21 L1547.59,843.02 L1548.03,842.85 L1548.48,842.68 L1548.93,842.52 L1549.39,842.38 L1549.85,842.24 L1550.32,842.12 L1550.80,842.00 L1550.80,842.00 L1550.80,875.30 L1551.00,842.00 M1551.52,842.00 L1551.90,878.05 L1551.94,880.83 L1551.97,883.60 L1552.00,886.35 L1552.03,889.08 L1552.06,891.78 L1552.09,894.46 L1552.12,897.11 L1552.15,899.74 L1552.18,902.33 L1552.21,904.88 L1552.25,907.39 L1552.28,909.85 L1552.31,912.25 L1552.34,914.57 L1552.37,916.77 L1552.40,918.70 L1552.43,918.41 L1552.49,917.41 L1552.56,915.52 L1552.66,912.69 L1552.77,908.91 L1552.90,904.29 L1553.03,898.96 L1553.18,893.11 L1553.35,886.97 L1553.52,880.79 L1553.71,874.79 L1553.90,869.15 L1554.11,864.03 L1554.32,859.52 L1554.55,855.67 L1554.78,852.46 L1555.02,849.84 L1555.27,847.75 L1555.53,846.11 L1555.80,844.81 L1556.08,843.79 L1556.36,842.98 L1556.65,842.30 L1556.95,841.73 L1557.26,841.24 L1557.57,840.79 L1557.90,840.38 L1558.23,839.99 L1558.56,839.63 L1558.91,839.29 L1559.26,838.96 L1559.61,838.65 L1559.98,838.35 L1560.35,838.07 L1560.73,837.81 L1561.11,837.55 L1561.50,837.32 L1561.90,837.09 L1562.30,836.88 L1562.71,836.69 L1563.12,836.50 L1563.55,836.33 L1563.97,836.16 L1564.41,836.01 L1564.85,835.87 L1565.29,835.74 L1565.74,835.61 L1566.20,835.50 L1566.20,835.50 L1566.20,870.70 L1566.40,835.50 M1567.02,835.50 L1567.58,871.78 L1567.62,874.59 L1567.67,877.37 L1567.71,880.14 L1567.76,882.88 L1567.80,885.60 L1567.85,888.30 L1567.89,890.97 L1567.94,893.61 L1567.98,896.22 L1568.03,898.79 L1568.08,901.32 L1568.12,903.80 L1568.16,906.21 L1568.21,908.55 L1568.25,910.76 L1568.30,912.70 L1568.33,912.41 L1568.39,911.37 L1568.46,909.43 L1568.56,906.51 L1568.67,902.62 L1568.80,897.85 L1568.94,892.35 L1569.09,886.33 L1569.25,880.02 L1569.43,873.68 L1569.62,867.52 L1569.81,861.76 L1570.02,856.55 L1570.24,851.97 L1570.46,848.06 L1570.70,844.83 L1570.94,842.20 L1571.19,840.11 L1571.46,838.47 L1571.73,837.19 L1572.00,836.18 L1572.29,835.37 L1572.58,834.71 L1572.89,834.15 L1573.19,833.66 L1573.51,833.22 L1573.84,832.81 L1574.17,832.43 L1574.51,832.08 L1574.85,831.74 L1575.21,831.41 L1575.57,831.11 L1575.93,830.82 L1576.31,830.54 L1576.69,830.28 L1577.07,830.03 L1577.47,829.79 L1577.86,829.57 L1578.27,829.37 L1578.68,829.17 L1579.10,828.99 L1579.53,828.82 L1579.96,828.65 L1580.39,828.50 L1580.84,828.36 L1581.28,828.23 L1581.74,828.11 L1582.20,828.00 L1582.20,828.00 L1582.20,863.30 L1582.40,828.00 M1582.82,828.00 L1583.03,864.28 L1583.05,867.09 L1583.06,869.87 L1583.08,872.64 L1583.10,875.38 L1583.11,878.10 L1583.13,880.80 L1583.15,883.47 L1583.16,886.11 L1583.18,888.72 L1583.20,891.29 L1583.22,893.82 L1583.23,896.30 L1583.25,898.71 L1583.27,901.05 L1583.28,903.26 L1583.30,905.20 L1583.33,904.91 L1583.38,903.86 L1583.45,901.91 L1583.54,898.97 L1583.65,895.06 L1583.76,890.26 L1583.89,884.73 L1584.03,878.67 L1584.19,872.33 L1584.35,865.95 L1584.52,859.76 L1584.70,853.96 L1584.90,848.72 L1585.10,844.11 L1585.31,840.18 L1585.52,836.92 L1585.75,834.28 L1585.99,832.18 L1586.23,830.53 L1586.48,829.24 L1586.74,828.23 L1587.00,827.41 L1587.28,826.75 L1587.56,826.19 L1587.84,825.69 L1588.14,825.25 L1588.44,824.84 L1588.75,824.46 L1589.06,824.10 L1589.38,823.76 L1589.71,823.43 L1590.04,823.13 L1590.38,822.83 L1590.73,822.55 L1591.08,822.29 L1591.44,822.04 L1591.81,821.80 L1592.18,821.58 L1592.55,821.37 L1592.94,821.18 L1593.32,820.99 L1593.72,820.82 L1594.12,820.66 L1594.52,820.51 L1594.93,820.37 L1595.35,820.24 L1595.77,820.11 L1596.20,820.00 L1596.20,820.00 L1596.20,855.30 L1596.40,820.00 M1596.96,820.00 L1597.41,856.99 L1597.45,859.85 L1597.49,862.69 L1597.52,865.51 L1597.56,868.30 L1597.60,871.08 L1597.63,873.83 L1597.67,876.55 L1597.71,879.24 L1597.74,881.90 L1597.78,884.52 L1597.82,887.10 L1597.85,889.62 L1597.89,892.08 L1597.93,894.47 L1597.96,896.72 L1598.00,898.70 L1598.02,898.40 L1598.08,897.34 L1598.14,895.35 L1598.23,892.36 L1598.33,888.38 L1598.44,883.50 L1598.56,877.87 L1598.69,871.71 L1598.84,865.25 L1598.99,858.76 L1599.16,852.46 L1599.33,846.56 L1599.51,841.22 L1599.70,836.53 L1599.90,832.54 L1600.10,829.22 L1600.32,826.53 L1600.54,824.40 L1600.77,822.72 L1601.01,821.40 L1601.25,820.37 L1601.50,819.54 L1601.76,818.87 L1602.02,818.29 L1602.30,817.79 L1602.57,817.34 L1602.86,816.93 L1603.15,816.54 L1603.45,816.17 L1603.75,815.82 L1604.06,815.49 L1604.38,815.18 L1604.70,814.88 L1605.03,814.60 L1605.36,814.33 L1605.70,814.08 L1606.04,813.84 L1606.40,813.61 L1606.75,813.40 L1607.11,813.20 L1607.48,813.01 L1607.85,812.83 L1608.23,812.67 L1608.61,812.52 L1609.00,812.37 L1609.40,812.24 L1609.80,812.12 L1610.20,812.00 L1610.20,812.00 L1610.20,848.00 L1610.40,812.00 M1610.96,812.00 L1611.41,848.99 L1611.45,851.85 L1611.49,854.69 L1611.52,857.51 L1611.56,860.30 L1611.60,863.08 L1611.63,865.83 L1611.67,868.55 L1611.71,871.24 L1611.74,873.90 L1611.78,876.52 L1611.82,879.10 L1611.85,881.62 L1611.89,884.08 L1611.93,886.47 L1611.96,888.72 L1612.00,890.70 L1612.02,890.40 L1612.07,889.32 L1612.14,887.31 L1612.22,884.29 L1612.32,880.26 L1612.43,875.32 L1612.55,869.63 L1612.68,863.39 L1612.82,856.87 L1612.97,850.29 L1613.13,843.92 L1613.29,837.96 L1613.47,832.56 L1613.66,827.82 L1613.85,823.78 L1614.05,820.42 L1614.26,817.70 L1614.48,815.54 L1614.70,813.84 L1614.93,812.51 L1615.17,811.47 L1615.42,810.63 L1615.67,809.95 L1615.93,809.37 L1616.19,808.86 L1616.46,808.40 L1616.74,807.98 L1617.02,807.59 L1617.31,807.22 L1617.61,806.87 L1617.91,806.53 L1618.22,806.22 L1618.53,805.92 L1618.85,805.63 L1619.18,805.36 L1619.51,805.10 L1619.85,804.86 L1620.19,804.63 L1620.54,804.41 L1620.89,804.21 L1621.25,804.02 L1621.61,803.84 L1621.98,803.68 L1622.35,803.52 L1622.73,803.38 L1623.12,803.24 L1623.51,803.12 L1623.90,803.00 L1623.90,803.00 L1623.90,840.00 L1624.10,803.00 M1624.52,803.00 L1624.73,839.75 L1624.75,842.59 L1624.76,845.42 L1624.78,848.22 L1624.80,851.00 L1624.81,853.75 L1624.83,856.49 L1624.85,859.19 L1624.87,861.86 L1624.88,864.51 L1624.90,867.11 L1624.92,869.67 L1624.93,872.18 L1624.95,874.63 L1624.97,876.99 L1624.98,879.24 L1625.00,881.20 L1625.02,880.90 L1625.07,879.83 L1625.14,877.83 L1625.23,874.82 L1625.32,870.82 L1625.43,865.91 L1625.56,860.25 L1625.69,854.05 L1625.83,847.56 L1625.98,841.03 L1626.15,834.69 L1626.32,828.76 L1626.50,823.39 L1626.69,818.68 L1626.88,814.66 L1627.09,811.32 L1627.30,808.62 L1627.52,806.47 L1627.75,804.78 L1627.98,803.46 L1628.22,802.42 L1628.47,801.59 L1628.73,800.91 L1628.99,800.33 L1629.26,799.83 L1629.54,799.37 L1629.82,798.96 L1630.11,798.56 L1630.40,798.20 L1630.70,797.85 L1631.01,797.51 L1631.32,797.20 L1631.64,796.90 L1631.97,796.61 L1632.30,796.34 L1632.64,796.09 L1632.98,795.85 L1633.33,795.62 L1633.68,795.41 L1634.04,795.20 L1634.40,795.02 L1634.77,794.84 L1635.15,794.67 L1635.53,794.52 L1635.91,794.38 L1636.30,794.24 L1636.70,794.12 L1637.10,794.00 L1637.10,794.00 L1637.10,830.00 L1637.30,794.00 M1637.68,794.00 L1637.82,831.46 L1637.83,834.35 L1637.84,837.23 L1637.85,840.08 L1637.87,842.92 L1637.88,845.73 L1637.89,848.51 L1637.90,851.27 L1637.91,853.99 L1637.92,856.69 L1637.93,859.34 L1637.94,861.95 L1637.95,864.51 L1637.97,867.00 L1637.98,869.41 L1637.99,871.70 L1638.00,873.70 L1638.02,873.38 L1638.07,872.26 L1638.14,870.16 L1638.22,866.99 L1638.32,862.78 L1638.43,857.62 L1638.55,851.67 L1638.68,845.15 L1638.82,838.32 L1638.97,831.45 L1639.13,824.79 L1639.29,818.56 L1639.47,812.91 L1639.66,807.95 L1639.85,803.72 L1640.05,800.22 L1640.26,797.37 L1640.48,795.11 L1640.70,793.33 L1640.93,791.95 L1641.17,790.85 L1641.42,789.98 L1641.67,789.26 L1641.93,788.66 L1642.19,788.13 L1642.46,787.65 L1642.74,787.21 L1643.02,786.80 L1643.31,786.41 L1643.61,786.05 L1643.91,785.70 L1644.22,785.36 L1644.53,785.05 L1644.85,784.75 L1645.18,784.46 L1645.51,784.20 L1645.85,783.94 L1646.19,783.70 L1646.54,783.48 L1646.89,783.27 L1647.25,783.07 L1647.61,782.88 L1647.98,782.71 L1648.35,782.55 L1648.73,782.39 L1649.12,782.25 L1649.51,782.12 L1649.90,782.00 L1649.90,782.00 L1649.90,820.00 L1650.10,782.00 M1650.52,782.00 L1650.73,820.40 L1650.75,823.37 L1650.76,826.31 L1650.78,829.24 L1650.80,832.15 L1650.81,835.03 L1650.83,837.88 L1650.85,840.71 L1650.87,843.50 L1650.88,846.26 L1650.90,848.98 L1650.92,851.65 L1650.93,854.28 L1650.95,856.83 L1650.97,859.30 L1650.98,861.65 L1651.00,863.70 L1651.02,863.38 L1651.07,862.23 L1651.14,860.08 L1651.22,856.85 L1651.31,852.54 L1651.41,847.27 L1651.53,841.19 L1651.65,834.53 L1651.79,827.55 L1651.93,820.53 L1652.09,813.72 L1652.25,807.35 L1652.42,801.58 L1652.60,796.52 L1652.79,792.20 L1652.98,788.61 L1653.18,785.71 L1653.39,783.40 L1653.61,781.58 L1653.83,780.16 L1654.06,779.05 L1654.30,778.15 L1654.54,777.42 L1654.79,776.80 L1655.05,776.26 L1655.31,775.77 L1655.58,775.32 L1655.85,774.91 L1656.14,774.51 L1656.42,774.13 L1656.71,773.78 L1657.01,773.44 L1657.31,773.11 L1657.62,772.81 L1657.94,772.52 L1658.26,772.24 L1658.58,771.98 L1658.91,771.74 L1659.25,771.51 L1659.59,771.29 L1659.94,771.09 L1660.29,770.90 L1660.64,770.72 L1661.01,770.56 L1661.37,770.40 L1661.74,770.26 L1662.12,770.12 L1662.50,770.00 L1662.50,770.00 L1662.50,808.00 L1662.70,770.00 M1663.28,770.00 L1663.77,809.34 L1663.81,812.38 L1663.85,815.40 L1663.89,818.40 L1663.93,821.37 L1663.97,824.32 L1664.01,827.25 L1664.05,830.14 L1664.09,833.00 L1664.12,835.83 L1664.16,838.62 L1664.20,841.36 L1664.24,844.05 L1664.28,846.66 L1664.32,849.20 L1664.36,851.60 L1664.40,853.70 L1664.42,853.37 L1664.46,852.18 L1664.51,849.96 L1664.58,846.63 L1664.66,842.19 L1664.75,836.74 L1664.85,830.47 L1664.95,823.59 L1665.07,816.39 L1665.19,809.15 L1665.32,802.12 L1665.46,795.55 L1665.60,789.59 L1665.75,784.36 L1665.91,779.91 L1666.07,776.21 L1666.24,773.21 L1666.42,770.83 L1666.60,768.95 L1666.79,767.49 L1666.98,766.34 L1667.18,765.42 L1667.39,764.66 L1667.60,764.02 L1667.82,763.46 L1668.04,762.96 L1668.26,762.50 L1668.49,762.06 L1668.73,761.65 L1668.97,761.27 L1669.22,760.90 L1669.47,760.55 L1669.73,760.21 L1669.99,759.90 L1670.25,759.60 L1670.52,759.32 L1670.80,759.05 L1671.07,758.80 L1671.36,758.56 L1671.65,758.34 L1671.94,758.13 L1672.23,757.93 L1672.53,757.75 L1672.84,757.58 L1673.15,757.42 L1673.46,757.27 L1673.78,757.13 L1674.10,757.00 L1674.10,757.00 L1674.10,795.00 L1674.30,757.00 M1674.72,757.00 L1674.93,796.34 L1674.95,799.38 L1674.96,802.40 L1674.98,805.40 L1675.00,808.37 L1675.01,811.32 L1675.03,814.25 L1675.05,817.14 L1675.07,820.00 L1675.08,822.83 L1675.10,825.62 L1675.12,828.36 L1675.13,831.05 L1675.15,833.66 L1675.17,836.20 L1675.18,838.60 L1675.20,840.70 L1675.50,800.00 L1675.90,770.00 L1676.60,757.00 L1678.50,752.00 L1682.00,745.00 L1686.10,738.00 L1686.10,738.00 L1686.10,780.00 L1686.30,738.00 M1686.76,738.00 L1687.04,779.45 L1687.06,782.66 L1687.09,785.84 L1687.11,789.00 L1687.13,792.13 L1687.15,795.24 L1687.17,798.33 L1687.20,801.38 L1687.22,804.39 L1687.24,807.37 L1687.27,810.31 L1687.29,813.20 L1687.31,816.03 L1687.33,818.79 L1687.36,821.45 L1687.38,823.99 L1687.40,826.20 L1687.70,790.00 L1688.10,750.00 L1688.80,737.00 L1690.50,732.00 L1694.00,722.00 L1697.00,714.00 L1697.00,714.00 L1697.00,760.00 L1697.20,714.00 M1697.60,714.00 L1697.78,758.04 L1697.79,761.44 L1697.80,764.82 L1697.82,768.18 L1697.83,771.51 L1697.85,774.81 L1697.86,778.09 L1697.87,781.33 L1697.89,784.53 L1697.90,787.70 L1697.92,790.82 L1697.93,793.89 L1697.94,796.89 L1697.96,799.82 L1697.97,802.66 L1697.99,805.35 L1698.00,807.70 L1698.30,770.00 L1698.70,725.00 L1699.40,711.00 L1701.00,706.00 L1705.00,695.00 L1708.70,684.00 L1708.70,684.00 L1708.70,730.00 L1708.90,684.00 M1709.28,684.00 L1709.42,728.04 L1709.43,731.44 L1709.44,734.82 L1709.45,738.18 L1709.47,741.51 L1709.48,744.81 L1709.49,748.09 L1709.50,751.33 L1709.51,754.53 L1709.52,757.70 L1709.53,760.82 L1709.54,763.89 L1709.55,766.89 L1709.57,769.82 L1709.58,772.66 L1709.59,775.35 L1709.60,777.70 L1709.90,740.00 L1710.30,695.00 L1711.00,678.00 L1713.00,668.00 L1715.50,656.50 L1718.00,636.00 L1719.80,615.00 L1719.80,615.00 M1720.40,615.00 L1720.58,665.85 L1720.59,669.78 L1720.60,673.69 L1720.62,677.56 L1720.63,681.41 L1720.65,685.22 L1720.66,689.00 L1720.67,692.75 L1720.69,696.45 L1720.70,700.10 L1720.72,703.70 L1720.73,707.25 L1720.74,710.72 L1720.76,714.10 L1720.77,717.38 L1720.79,720.48 L1720.80,723.20 L1721.40,700.00 L1721.90,640.00 L1722.20,600.00 L1727.00,597.00 L1731.50,598.00 L1731.50,612.30 L1731.50,560.00" fill="none" stroke="#000" stroke-width="5.0" stroke-linejoin="round" stroke-linecap="round"/>
<path d="M381.20,1022.30 L381.50,990.10 L383.42,1022.30 M463.80,1014.70 L464.10,972.60 L465.90,1014.70 M545.30,1006.20 L545.60,954.10 L547.19,1006.20 M623.20,998.40 L623.50,939.60 L624.99,998.40 M696.00,991.50 L696.30,926.10 L697.72,991.50 M765.00,985.00 L765.30,913.60 L766.50,985.00 M828.00,977.50 L828.30,901.60 L829.50,977.50 M887.70,972.40 L888.00,891.60 L889.22,972.40 M942.00,965.75 L942.30,881.60 L943.59,965.75 M993.00,960.25 L993.30,869.60 L994.48,960.25 M1040.10,953.80 L1040.40,860.60 L1041.50,953.80 M1084.10,947.00 L1084.40,850.60 L1085.32,947.00 M1125.20,942.00 L1125.50,841.10 L1126.38,942.00 M1163.10,935.60 L1163.40,832.10 L1164.28,935.60 M1198.90,930.20 L1199.20,821.60 L1199.98,930.20 M1232.10,923.60 L1232.40,813.60 L1233.14,923.60 M1263.90,918.20 L1264.20,804.10 L1264.86,918.20 M1293.45,913.00 L1293.75,794.10 L1294.40,913.00 M1320.95,907.50 L1321.25,784.40 L1321.90,907.50 M1347.70,901.25 L1348.00,774.40 L1348.65,901.25 M1373.20,896.00 L1373.50,765.90 L1373.90,896.00 M1396.70,890.00 L1397.00,756.90 L1397.50,890.00 M1418.95,885.00 L1419.25,746.90 L1419.65,885.00 M1440.95,878.75 L1441.25,737.40 L1441.60,878.75 M1461.45,872.50 L1461.75,727.90 L1462.15,872.50 M1480.60,868.00 L1480.90,718.40 L1481.26,868.00 M1499.30,861.50 L1499.60,708.40 L1500.00,861.50 M1517.00,855.50 L1517.30,697.40 L1517.70,855.50 M1534.40,849.00 L1534.70,686.90 L1535.04,849.00 M1551.00,842.00 L1551.30,676.40 L1551.52,842.00 M1566.40,835.50 L1566.70,665.40 L1567.02,835.50 M1582.40,828.00 L1582.70,653.90 L1582.82,828.00 M1596.40,820.00 L1596.70,640.40 L1596.96,820.00" fill="none" stroke="#000" stroke-width="3.3" stroke-linejoin="round" stroke-linecap="round"/>
<path d="M381.20,1022.30 L381.50,990.10 L383.42,1022.30 M463.80,1014.70 L464.10,972.60 L465.90,1014.70 M545.30,1006.20 L545.60,954.10 L547.19,1006.20 M623.20,998.40 L623.50,939.60 L624.99,998.40 M696.00,991.50 L696.30,926.10 L697.72,991.50 M765.00,985.00 L765.30,913.60 L766.50,985.00 M828.00,977.50 L828.30,901.60 L829.50,977.50 M887.70,972.40 L888.00,891.60 L889.22,972.40 M942.00,965.75 L942.30,881.60 L943.59,965.75 M993.00,960.25 L993.30,869.60 L994.48,960.25 M1040.10,953.80 L1040.40,860.60 L1041.50,953.80 M1084.10,947.00 L1084.40,850.60 L1085.32,947.00 M1125.20,942.00 L1125.50,841.10 L1126.38,942.00 M1163.10,935.60 L1163.40,832.10 L1164.28,935.60 M1198.90,930.20 L1199.20,821.60 L1199.98,930.20 M1232.10,923.60 L1232.40,813.60 L1233.14,923.60 M1263.90,918.20 L1264.20,804.10 L1264.86,918.20 M1293.45,913.00 L1293.75,794.10 L1294.40,913.00 M1320.95,907.50 L1321.25,784.40 L1321.90,907.50 M1347.70,901.25 L1348.00,774.40 L1348.65,901.25 M1373.20,896.00 L1373.50,765.90 L1373.90,896.00 M1396.70,890.00 L1397.00,756.90 L1397.50,890.00 M1418.95,885.00 L1419.25,746.90 L1419.65,885.00 M1440.95,878.75 L1441.25,737.40 L1441.60,878.75 M1461.45,872.50 L1461.75,727.90 L1462.15,872.50 M1480.60,868.00 L1480.90,718.40 L1481.26,868.00 M1499.30,861.50 L1499.60,708.40 L1500.00,861.50 M1517.00,855.50 L1517.30,697.40 L1517.70,855.50 M1534.40,849.00 L1534.70,686.90 L1535.04,849.00 M1551.00,842.00 L1551.30,676.40 L1551.52,842.00 M1566.40,835.50 L1566.70,665.40 L1567.02,835.50 M1582.40,828.00 L1582.70,653.90 L1582.82,828.00 M1596.40,820.00 L1596.70,640.40 L1596.96,820.00" fill="none" stroke="#000" stroke-width="4.7" stroke-dasharray="0 4.0" stroke-linejoin="round" stroke-linecap="round"/>
<path d="M1610.70,812.00 L1610.70,626.30 M1624.40,803.00 L1624.40,610.30 M1637.60,794.00 L1637.60,592.30 M1650.40,782.00 L1650.40,568.90 M1663.00,770.00 L1663.00,551.60 M1674.60,757.00 L1674.60,512.00 M1686.60,738.00 L1686.60,473.50 M1697.50,714.00 L1697.50,419.60 M1709.20,684.00 L1709.20,337.60 M1720.30,615.00 L1720.30,210.60" fill="none" stroke="#000" stroke-width="2.6" stroke-linejoin="round" stroke-linecap="round"/>
<path d="M1610.70,812.00 L1610.70,626.30 M1624.40,803.00 L1624.40,610.30 M1637.60,794.00 L1637.60,592.30 M1650.40,782.00 L1650.40,568.90 M1663.00,770.00 L1663.00,551.60 M1674.60,757.00 L1674.60,512.00 M1686.60,738.00 L1686.60,473.50 M1697.50,714.00 L1697.50,419.60 M1709.20,684.00 L1709.20,337.60 M1720.30,615.00 L1720.30,210.60" fill="none" stroke="#000" stroke-width="4.6" stroke-dasharray="0 6.5" stroke-linejoin="round" stroke-linecap="round"/>
<path d="M1663,771 L1673.3,758.5 L1680,750 L1687,739.5 L1693,728 L1699,716 L1704,702 L1708,689 L1712,676 L1716,657 L1719,637 L1720.6,622" fill="none" stroke="#000" stroke-width="6.2" stroke-linejoin="round" stroke-linecap="round"/>
<line x1="1662.05" y1="144" x2="1662.05" y2="1068" stroke="#0000ff" stroke-width="4.17"/>
<line x1="1728.95" y1="144" x2="1728.95" y2="1068" stroke="#0000ff" stroke-width="4.17"/>
<line x1="250" y1="598.9" x2="1800" y2="598.9" stroke="#008000" stroke-width="4.17"/>
<line x1="250" y1="328.9" x2="1800" y2="328.9" stroke="#ffa500" stroke-width="2.08"/>
<line x1="250" y1="489.7" x2="1800" y2="489.7" stroke="#ffa500" stroke-width="2.08"/>
<g fill="#90ee90"><circle cx="1708.8" cy="339.4" r="4.3"/><circle cx="1708.8" cy="345" r="4.3"/><circle cx="1708.8" cy="353" r="4.3"/><circle cx="1708.8" cy="366" r="4.3"/><circle cx="1708.8" cy="377" r="4.3"/><circle cx="1708.8" cy="384" r="4.3"/><circle cx="1708.8" cy="390" r="4.3"/><circle cx="1708.8" cy="398" r="4.3"/><circle cx="1708.8" cy="407" r="4.3"/><circle cx="1708.8" cy="412" r="4.3"/><circle cx="1708.8" cy="419" r="4.3"/><circle cx="1708.8" cy="426" r="4.3"/><circle cx="1708.8" cy="433" r="4.3"/><circle cx="1708.8" cy="442" r="4.3"/><circle cx="1708.8" cy="451" r="4.3"/><circle cx="1708.8" cy="461" r="4.3"/><circle cx="1708.8" cy="471" r="4.3"/><circle cx="1708.8" cy="485" r="4.3"/><circle cx="1708.8" cy="497.5" r="4.3"/><circle cx="1708.8" cy="510" r="4.3"/><circle cx="1708.8" cy="524" r="4.3"/><circle cx="1708.8" cy="538" r="4.3"/><circle cx="1708.8" cy="553.5" r="4.3"/><circle cx="1708.8" cy="569" r="4.3"/><circle cx="1708.8" cy="585" r="4.3"/><circle cx="1708.8" cy="601" r="4.3"/><circle cx="1708.8" cy="617" r="4.3"/><circle cx="1708.8" cy="634" r="4.3"/><circle cx="1708.8" cy="650" r="4.3"/><circle cx="1708.8" cy="665" r="4.3"/><circle cx="1708.8" cy="680" r="4.3"/><circle cx="1708.8" cy="693" r="4.3"/></g>
<g fill="#ffff00" fill-opacity="0.25" stroke="#ffff00" stroke-opacity="0.25" stroke-width="1.4"><circle cx="1662.2" cy="596.0" r="7.4"/><circle cx="1674.4" cy="573.0" r="7.4"/><circle cx="1674.4" cy="578.0" r="7.4"/><circle cx="1674.4" cy="583.0" r="7.4"/><circle cx="1674.4" cy="588.0" r="7.4"/><circle cx="1674.4" cy="593.0" r="7.4"/><circle cx="1674.4" cy="598.0" r="7.4"/><circle cx="1686.3" cy="551.0" r="7.4"/><circle cx="1686.3" cy="556.0" r="7.4"/><circle cx="1686.3" cy="561.0" r="7.4"/><circle cx="1686.3" cy="566.0" r="7.4"/><circle cx="1686.3" cy="571.0" r="7.4"/><circle cx="1686.3" cy="576.0" r="7.4"/><circle cx="1686.3" cy="581.0" r="7.4"/><circle cx="1686.3" cy="586.0" r="7.4"/><circle cx="1686.3" cy="591.0" r="7.4"/><circle cx="1686.3" cy="596.0" r="7.4"/><circle cx="1697.4" cy="511.0" r="7.4"/><circle cx="1697.4" cy="516.0" r="7.4"/><circle cx="1697.4" cy="521.0" r="7.4"/><circle cx="1697.4" cy="526.0" r="7.4"/><circle cx="1697.4" cy="531.0" r="7.4"/><circle cx="1697.4" cy="536.0" r="7.4"/><circle cx="1697.4" cy="541.0" r="7.4"/><circle cx="1697.4" cy="546.0" r="7.4"/><circle cx="1697.4" cy="551.0" r="7.4"/><circle cx="1697.4" cy="556.0" r="7.4"/><circle cx="1697.4" cy="561.0" r="7.4"/><circle cx="1697.4" cy="566.0" r="7.4"/><circle cx="1697.4" cy="571.0" r="7.4"/><circle cx="1697.4" cy="576.0" r="7.4"/><circle cx="1697.4" cy="581.0" r="7.4"/><circle cx="1697.4" cy="586.0" r="7.4"/><circle cx="1697.4" cy="591.0" r="7.4"/><circle cx="1697.4" cy="596.0" r="7.4"/><circle cx="1708.5" cy="448.0" r="7.4"/><circle cx="1708.5" cy="453.0" r="7.4"/><circle cx="1708.5" cy="458.0" r="7.4"/><circle cx="1708.5" cy="463.0" r="7.4"/><circle cx="1708.5" cy="468.0" r="7.4"/><circle cx="1708.5" cy="473.0" r="7.4"/><circle cx="1708.5" cy="478.0" r="7.4"/><circle cx="1708.5" cy="483.0" r="7.4"/><circle cx="1708.5" cy="488.0" r="7.4"/><circle cx="1708.5" cy="493.0" r="7.4"/><circle cx="1708.5" cy="498.0" r="7.4"/><circle cx="1708.5" cy="503.0" r="7.4"/><circle cx="1708.5" cy="508.0" r="7.4"/><circle cx="1708.5" cy="513.0" r="7.4"/><circle cx="1708.5" cy="518.0" r="7.4"/><circle cx="1708.5" cy="523.0" r="7.4"/><circle cx="1708.5" cy="528.0" r="7.4"/><circle cx="1708.5" cy="533.0" r="7.4"/><circle cx="1708.5" cy="538.0" r="7.4"/><circle cx="1708.5" cy="543.0" r="7.4"/><circle cx="1708.5" cy="548.0" r="7.4"/><circle cx="1708.5" cy="553.0" r="7.4"/><circle cx="1708.5" cy="558.0" r="7.4"/><circle cx="1708.5" cy="563.0" r="7.4"/><circle cx="1708.5" cy="568.0" r="7.4"/><circle cx="1708.5" cy="573.0" r="7.4"/><circle cx="1708.5" cy="578.0" r="7.4"/><circle cx="1708.5" cy="583.0" r="7.4"/><circle cx="1708.5" cy="588.0" r="7.4"/><circle cx="1708.5" cy="593.0" r="7.4"/><circle cx="1708.5" cy="598.0" r="7.4"/><circle cx="1720.3" cy="340.0" r="7.4"/><circle cx="1720.3" cy="347.5" r="7.4"/><circle cx="1720.3" cy="355.0" r="7.4"/><circle cx="1720.3" cy="362.5" r="7.4"/><circle cx="1720.3" cy="370.0" r="7.4"/><circle cx="1720.3" cy="377.5" r="7.4"/><circle cx="1720.3" cy="385.0" r="7.4"/><circle cx="1720.3" cy="392.5" r="7.4"/><circle cx="1720.3" cy="400.0" r="7.4"/><circle cx="1720.3" cy="407.5" r="7.4"/><circle cx="1720.3" cy="415.0" r="7.4"/><circle cx="1720.3" cy="422.5" r="7.4"/><circle cx="1720.3" cy="430.0" r="7.4"/><circle cx="1720.3" cy="437.5" r="7.4"/><circle cx="1720.3" cy="445.0" r="7.4"/><circle cx="1720.3" cy="452.5" r="7.4"/><circle cx="1720.3" cy="460.0" r="7.4"/><circle cx="1720.3" cy="467.5" r="7.4"/><circle cx="1720.3" cy="475.0" r="7.4"/><circle cx="1720.3" cy="482.5" r="7.4"/><circle cx="1720.3" cy="490.0" r="7.4"/><circle cx="1720.3" cy="497.5" r="7.4"/><circle cx="1720.3" cy="505.0" r="7.4"/><circle cx="1720.3" cy="512.5" r="7.4"/><circle cx="1720.3" cy="520.0" r="7.4"/><circle cx="1720.3" cy="527.5" r="7.4"/><circle cx="1720.3" cy="535.0" r="7.4"/><circle cx="1720.3" cy="542.5" r="7.4"/><circle cx="1720.3" cy="550.0" r="7.4"/><circle cx="1720.3" cy="557.5" r="7.4"/><circle cx="1720.3" cy="565.0" r="7.4"/><circle cx="1720.3" cy="572.5" r="7.4"/><circle cx="1720.3" cy="580.0" r="7.4"/><circle cx="1720.3" cy="587.5" r="7.4"/><circle cx="1720.3" cy="595.0" r="7.4"/></g>
<rect x="1717.6" y="532.4" width="19.8" height="74.3" rx="9.9" ry="9.9" fill="#ffff00"/>
<rect x="1714.6" y="552" width="22.7" height="54.7" rx="11" ry="11" fill="#ffff00"/>
</g>
<text x="0.00" y="0.00" font-size="16.67" text-anchor="start" textLength="35.13" lengthAdjust="spacingAndGlyphs" transform="translate(901.00,896.10) rotate(-80)" fill="#000">n=1</text>
<text x="0.00" y="0.00" font-size="16.67" text-anchor="start" textLength="35.13" lengthAdjust="spacingAndGlyphs" transform="translate(955.30,886.10) rotate(-80)" fill="#000">n=2</text>
<text x="0.00" y="0.00" font-size="16.67" text-anchor="start" textLength="35.13" lengthAdjust="spacingAndGlyphs" transform="translate(1006.30,874.10) rotate(-80)" fill="#000">n=3</text>
<text x="0.00" y="0.00" font-size="16.67" text-anchor="start" textLength="35.13" lengthAdjust="spacingAndGlyphs" transform="translate(1053.40,865.10) rotate(-80)" fill="#000">n=4</text>
<text x="0.00" y="0.00" font-size="16.67" text-anchor="start" textLength="35.13" lengthAdjust="spacingAndGlyphs" transform="translate(1097.40,855.10) rotate(-80)" fill="#000">n=5</text>
<text x="0.00" y="0.00" font-size="16.67" text-anchor="start" textLength="35.13" lengthAdjust="spacingAndGlyphs" transform="translate(1138.50,845.60) rotate(-80)" fill="#000">n=6</text>
<text x="0.00" y="0.00" font-size="16.67" text-anchor="start" textLength="35.13" lengthAdjust="spacingAndGlyphs" transform="translate(1176.40,836.60) rotate(-80)" fill="#000">n=7</text>
<text x="0.00" y="0.00" font-size="16.67" text-anchor="start" textLength="35.13" lengthAdjust="spacingAndGlyphs" transform="translate(1212.20,826.10) rotate(-80)" fill="#000">n=8</text>
<text x="0.00" y="0.00" font-size="16.67" text-anchor="start" textLength="35.13" lengthAdjust="spacingAndGlyphs" transform="translate(1245.40,818.10) rotate(-80)" fill="#000">n=9</text>
<text x="0.00" y="0.00" font-size="16.67" text-anchor="start" textLength="45.74" lengthAdjust="spacingAndGlyphs" transform="translate(1277.20,808.60) rotate(-80)" fill="#000">n=10</text>
<text x="0.00" y="0.00" font-size="16.67" text-anchor="start" textLength="45.74" lengthAdjust="spacingAndGlyphs" transform="translate(1306.75,798.60) rotate(-80)" fill="#000">n=11</text>
<text x="0.00" y="0.00" font-size="16.67" text-anchor="start" textLength="45.74" lengthAdjust="spacingAndGlyphs" transform="translate(1334.25,788.90) rotate(-80)" fill="#000">n=12</text>
<text x="0.00" y="0.00" font-size="16.67" text-anchor="start" textLength="45.74" lengthAdjust="spacingAndGlyphs" transform="translate(1361.00,778.90) rotate(-80)" fill="#000">n=13</text>
<text x="0.00" y="0.00" font-size="16.67" text-anchor="start" textLength="45.74" lengthAdjust="spacingAndGlyphs" transform="translate(1386.50,770.40) rotate(-80)" fill="#000">n=14</text>
<text x="0.00" y="0.00" font-size="16.67" text-anchor="start" textLength="45.74" lengthAdjust="spacingAndGlyphs" transform="translate(1410.00,761.40) rotate(-80)" fill="#000">n=15</text>
<text x="0.00" y="0.00" font-size="16.67" text-anchor="start" textLength="45.74" lengthAdjust="spacingAndGlyphs" transform="translate(1432.25,751.40) rotate(-80)" fill="#000">n=16</text>
<text x="0.00" y="0.00" font-size="16.67" text-anchor="start" textLength="45.74" lengthAdjust="spacingAndGlyphs" transform="translate(1454.25,741.90) rotate(-80)" fill="#000">n=17</text>
<text x="0.00" y="0.00" font-size="16.67" text-anchor="start" textLength="45.74" lengthAdjust="spacingAndGlyphs" transform="translate(1474.75,732.40) rotate(-80)" fill="#000">n=18</text>
<text x="0.00" y="0.00" font-size="16.67" text-anchor="start" textLength="45.74" lengthAdjust="spacingAndGlyphs" transform="translate(1493.90,722.90) rotate(-80)" fill="#000">n=19</text>
<text x="0.00" y="0.00" font-size="16.67" text-anchor="start" textLength="45.74" lengthAdjust="spacingAndGlyphs" transform="translate(1512.60,712.90) rotate(-80)" fill="#000">n=20</text>
<text x="0.00" y="0.00" font-size="16.67" text-anchor="start" textLength="45.74" lengthAdjust="spacingAndGlyphs" transform="translate(1530.30,701.90) rotate(-80)" fill="#000">n=21</text>
<text x="0.00" y="0.00" font-size="16.67" text-anchor="start" textLength="45.74" lengthAdjust="spacingAndGlyphs" transform="translate(1547.70,691.40) rotate(-80)" fill="#000">n=22</text>
<text x="0.00" y="0.00" font-size="16.67" text-anchor="start" textLength="45.74" lengthAdjust="spacingAndGlyphs" transform="translate(1564.30,680.90) rotate(-80)" fill="#000">n=23</text>
<text x="0.00" y="0.00" font-size="16.67" text-anchor="start" textLength="45.74" lengthAdjust="spacingAndGlyphs" transform="translate(1579.70,669.90) rotate(-80)" fill="#000">n=24</text>
<text x="0.00" y="0.00" font-size="16.67" text-anchor="start" textLength="45.74" lengthAdjust="spacingAndGlyphs" transform="translate(1595.70,658.40) rotate(-80)" fill="#000">n=25</text>
<text x="0.00" y="0.00" font-size="16.67" text-anchor="start" textLength="45.74" lengthAdjust="spacingAndGlyphs" transform="translate(1609.70,644.90) rotate(-80)" fill="#000">n=26</text>
<text x="0.00" y="0.00" font-size="16.67" text-anchor="start" textLength="45.74" lengthAdjust="spacingAndGlyphs" transform="translate(1637.40,614.80) rotate(-80)" fill="#000">n=27</text>
<text x="0.00" y="0.00" font-size="16.67" text-anchor="start" textLength="45.74" lengthAdjust="spacingAndGlyphs" transform="translate(1650.60,596.80) rotate(-80)" fill="#000">n=28</text>
<text x="0.00" y="0.00" font-size="16.67" text-anchor="start" textLength="45.74" lengthAdjust="spacingAndGlyphs" transform="translate(1661.90,575.30) rotate(-80)" fill="#000">n=29</text>
<text x="0.00" y="0.00" font-size="16.67" text-anchor="start" textLength="45.74" lengthAdjust="spacingAndGlyphs" transform="translate(1674.60,546.00) rotate(-80)" fill="#000">n=30</text>
<text x="0.00" y="0.00" font-size="16.67" text-anchor="start" textLength="45.74" lengthAdjust="spacingAndGlyphs" transform="translate(1686.40,516.00) rotate(-80)" fill="#000">n=31</text>
<text x="0.00" y="0.00" font-size="16.67" text-anchor="start" textLength="45.74" lengthAdjust="spacingAndGlyphs" transform="translate(1698.20,477.00) rotate(-80)" fill="#000">n=32</text>
<text x="0.00" y="0.00" font-size="16.67" text-anchor="start" textLength="45.74" lengthAdjust="spacingAndGlyphs" transform="translate(1710.00,426.50) rotate(-80)" fill="#000">n=33</text>
<text x="0.00" y="0.00" font-size="16.67" text-anchor="start" textLength="45.74" lengthAdjust="spacingAndGlyphs" transform="translate(1720.90,342.50) rotate(-80)" fill="#000">n=34</text>
<rect x="250.5" y="144.5" width="1550" height="924" fill="none" stroke="#000" stroke-width="1.11"/>
<path d="M266.15,1068 V1079.11 M333.00,1068 V1084.67 M399.85,1068 V1079.11 M466.70,1068 V1079.11 M533.55,1068 V1079.11 M600.40,1068 V1079.11 M667.25,1068 V1084.67 M734.10,1068 V1079.11 M800.95,1068 V1079.11 M867.80,1068 V1079.11 M934.65,1068 V1079.11 M1001.50,1068 V1084.67 M1068.35,1068 V1079.11 M1135.20,1068 V1079.11 M1202.05,1068 V1079.11 M1268.90,1068 V1079.11 M1335.75,1068 V1084.67 M1402.60,1068 V1079.11 M1469.45,1068 V1079.11 M1536.30,1068 V1079.11 M1603.15,1068 V1079.11 M1670.00,1068 V1084.67 M1736.85,1068 V1079.11 M250,1045.89 H238.89 M250,1019.17 H238.89 M250,992.44 H238.89 M250,965.72 H238.89 M250,939.00 H233.33 M250,912.28 H238.89 M250,885.56 H238.89 M250,858.83 H238.89 M250,832.11 H238.89 M250,805.39 H233.33 M250,778.67 H238.89 M250,751.95 H238.89 M250,725.22 H238.89 M250,698.50 H238.89 M250,671.78 H233.33 M250,645.06 H238.89 M250,618.34 H238.89 M250,591.61 H238.89 M250,564.89 H238.89 M250,538.17 H233.33 M250,511.45 H238.89 M250,484.73 H238.89 M250,458.00 H238.89 M250,431.28 H238.89 M250,404.56 H233.33 M250,377.84 H238.89 M250,351.12 H238.89 M250,324.39 H238.89 M250,297.67 H238.89 M250,270.95 H233.33 M250,244.23 H238.89 M250,217.51 H238.89 M250,190.78 H238.89 M250,164.06 H238.89" stroke="#000" stroke-width="5.56" fill="none"/>
<text x="333.00" y="1117.40" font-size="36.76" text-anchor="middle" textLength="103.38" lengthAdjust="spacingAndGlyphs" fill="#000">411.0</text>
<text x="667.25" y="1117.40" font-size="36.76" text-anchor="middle" textLength="103.38" lengthAdjust="spacingAndGlyphs" fill="#000">411.5</text>
<text x="1001.50" y="1117.40" font-size="36.76" text-anchor="middle" textLength="103.38" lengthAdjust="spacingAndGlyphs" fill="#000">412.0</text>
<text x="1335.75" y="1117.40" font-size="36.76" text-anchor="middle" textLength="103.38" lengthAdjust="spacingAndGlyphs" fill="#000">412.5</text>
<text x="1670.00" y="1117.40" font-size="36.76" text-anchor="middle" textLength="103.38" lengthAdjust="spacingAndGlyphs" fill="#000">413.0</text>
<text x="227.60" y="953.00" font-size="37.01" text-anchor="end" textLength="68.93" lengthAdjust="spacingAndGlyphs" fill="#000">100</text>
<text x="227.60" y="819.39" font-size="37.01" text-anchor="end" textLength="68.93" lengthAdjust="spacingAndGlyphs" fill="#000">200</text>
<text x="227.60" y="685.78" font-size="37.01" text-anchor="end" textLength="68.93" lengthAdjust="spacingAndGlyphs" fill="#000">300</text>
<text x="227.60" y="552.17" font-size="37.01" text-anchor="end" textLength="68.93" lengthAdjust="spacingAndGlyphs" fill="#000">400</text>
<text x="227.60" y="418.56" font-size="37.01" text-anchor="end" textLength="68.93" lengthAdjust="spacingAndGlyphs" fill="#000">500</text>
<text x="227.60" y="284.95" font-size="37.01" text-anchor="end" textLength="68.93" lengthAdjust="spacingAndGlyphs" fill="#000">600</text>
<text x="1025.00" y="1171.50" font-size="56.56" text-anchor="middle" textLength="272.12" lengthAdjust="spacingAndGlyphs" fill="#000">Age (Myr)</text>
<text x="0.00" y="0.00" font-size="56.56" text-anchor="middle" textLength="465.86" lengthAdjust="spacingAndGlyphs" transform="translate(141.60,606.00) rotate(-90)" fill="#000">O1 period (days)</text>
<rect x="263.5" y="157.7" width="535" height="290.6" rx="5" ry="5" fill="#fff" fill-opacity="0.8" stroke="#cccccc" stroke-width="1.11"/>
<line x1="273" y1="176.9" x2="323" y2="176.9" stroke="#000" stroke-width="2.08" stroke-linecap="square"/>
<circle cx="298.2" cy="176.9" r="2.2" fill="#000"/>
<line x1="273" y1="213.9" x2="323" y2="213.9" stroke="#0000ff" stroke-width="4.17" stroke-linecap="square"/>
<line x1="273" y1="251" x2="323" y2="251" stroke="#008000" stroke-width="4.17" stroke-linecap="square"/>
<line x1="273" y1="286.9" x2="323" y2="286.9" stroke="#ffa500" stroke-width="2.08" stroke-linecap="square"/>
<circle cx="298.4" cy="324.3" r="4.3" fill="#90ee90"/>
<line x1="273" y1="360" x2="323" y2="360" stroke="#ff0000" stroke-width="2.08" stroke-linecap="square"/>
<polygon points="298.40,339.10 303.09,353.54 318.28,353.54 305.99,362.47 310.68,376.91 298.40,367.98 286.12,376.91 290.81,362.47 278.52,353.54 293.71,353.54" fill="#ff0000"/>
<circle cx="298.4" cy="413.3" r="6.6" fill="#ffff00" fill-opacity="0.22" stroke="#ffff00" stroke-opacity="0.22" stroke-width="1.4"/>
<text x="343.00" y="186.60" font-size="25.75" text-anchor="start" textLength="291.99" lengthAdjust="spacingAndGlyphs" fill="#000">m2.70_z0.0030_y0.255</text>
<text x="343.00" y="223.70" font-size="25.75" text-anchor="start" textLength="406.89" lengthAdjust="spacingAndGlyphs" fill="#000">peak detector horizontal bounds</text>
<text x="343.00" y="260.80" font-size="25.75" text-anchor="start" textLength="444.59" lengthAdjust="spacingAndGlyphs" fill="#000">min. P consistent with observations</text>
<text x="343.00" y="296.60" font-size="25.75" text-anchor="start" textLength="407.73" lengthAdjust="spacingAndGlyphs" fill="#000">max. P must fall within this span</text>
<text x="343.00" y="333.70" font-size="25.75" text-anchor="start" textLength="404.62" lengthAdjust="spacingAndGlyphs" fill="#000">pulse region fit with cubic spline</text>
<text x="343.00" y="369.40" font-size="25.75" text-anchor="start" textLength="205.83" lengthAdjust="spacingAndGlyphs" fill="#000">pulses identified</text>
<text x="343.00" y="405.20" font-size="25.75" text-anchor="start" textLength="278.55" lengthAdjust="spacingAndGlyphs" fill="#000">intersection w/ P,L,T,R</text>
<text x="343.00" y="432.70" font-size="25.75" text-anchor="start" textLength="189.72" lengthAdjust="spacingAndGlyphs" fill="#000">loosely defined</text>
</svg></body></html>
